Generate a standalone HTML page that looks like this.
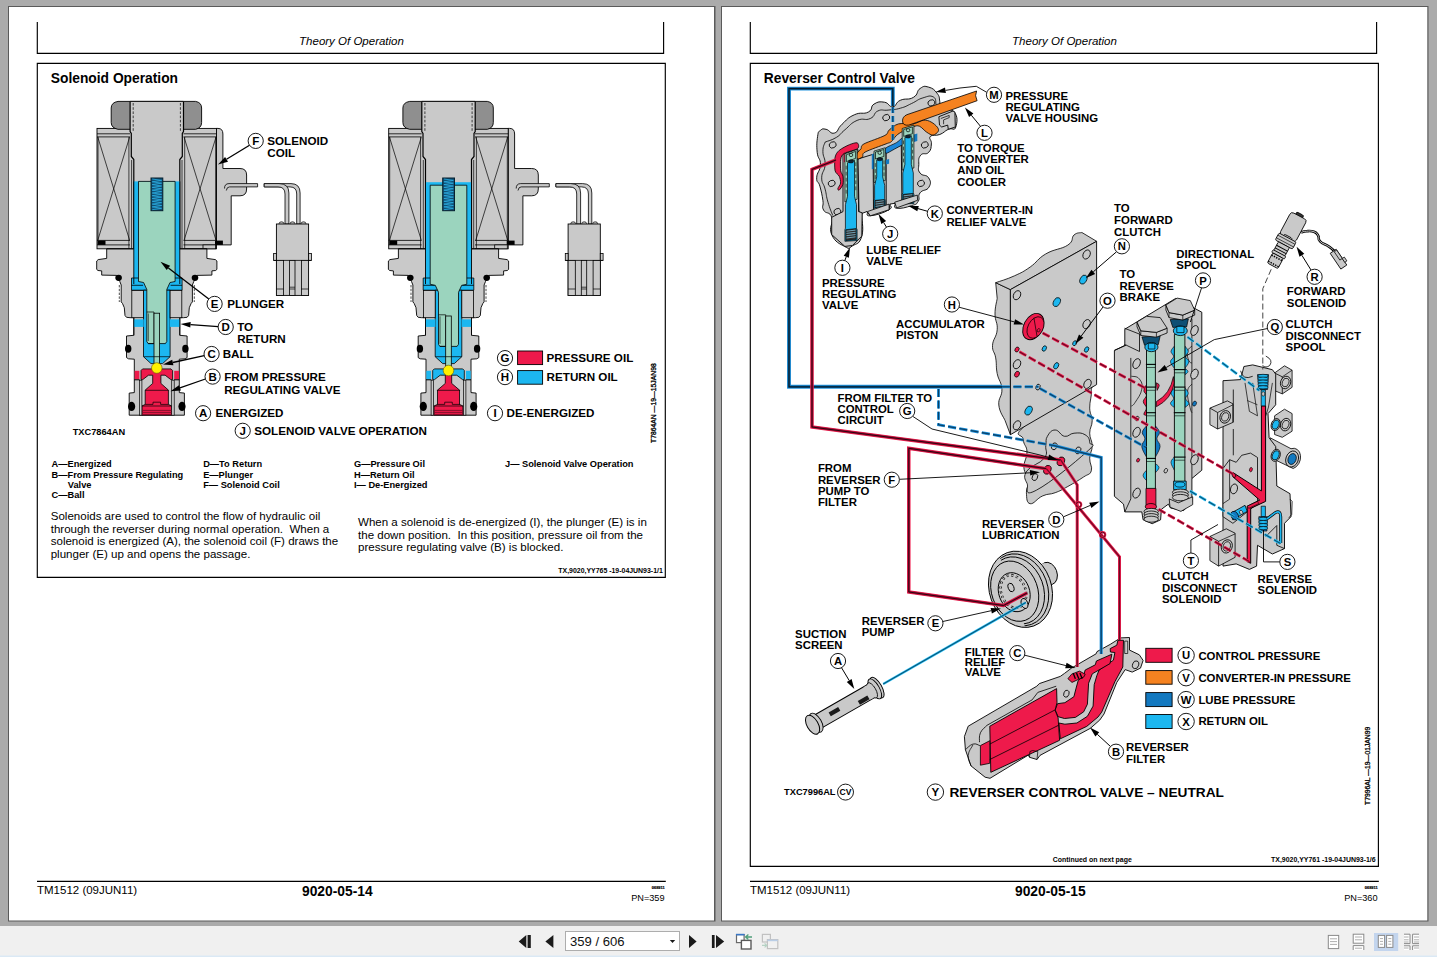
<!DOCTYPE html>
<html>
<head>
<meta charset="utf-8">
<title>Theory Of Operation</title>
<style>
html,body{margin:0;padding:0;width:1437px;height:957px;overflow:hidden;background:#ababab;}
svg{position:absolute;left:0;top:0;display:block;}
text{white-space:pre;font-family:"Liberation Sans",sans-serif;fill:#000;}
.b{font-weight:bold;}
.i{font-style:italic;}
.body{font-size:11.55px;}
.leg{font-size:9.25px;font-weight:bold;}
.lab{font-size:11.65px;font-weight:bold;}
.rlab{font-size:11.4px;font-weight:bold;}
.tiny{font-size:6.95px;font-weight:bold;}
.ln{stroke:#000;stroke-width:1.15;fill:none;}
</style>
</head>
<body>
<svg width="1437" height="957" viewBox="0 0 1437 957">
<!-- ===== viewer chrome ===== -->
<rect x="0" y="0" width="1437" height="957" fill="#ababab"/>
<!-- page shadows/borders -->
<rect x="8" y="6" width="707.5" height="915.5" fill="#5a5a5a"/>
<rect x="9" y="7" width="705" height="913.5" fill="#fff"/>
<rect x="721" y="6" width="707.5" height="915.5" fill="#5a5a5a"/>
<rect x="722" y="7" width="705.3" height="913.5" fill="#fff"/>
<!-- toolbar -->
<rect x="0" y="926" width="1437" height="31" fill="#f0f0f0"/>
<rect x="0" y="955.5" width="1437" height="1.5" fill="#dbe9f5"/>

<!-- ===== LEFT PAGE frame ===== -->
<g id="left-frame">
<path class="ln" d="M37.3 22 V53.3 H663.6 V22"/>
<path class="ln" d="M37.3 63.4 H665.3 V577.3 H37.3 Z"/>
<path class="ln" d="M37 881.3 H665.8"/>
<text x="351.5" y="45" text-anchor="middle" class="i" style="font-size:11.5px">Theory Of Operation</text>
<text x="50.8" y="82.8" class="b" style="font-size:13.8px">Solenoid Operation</text>
<text x="37" y="893.8" style="font-size:11.5px">TM1512 (09JUN11)</text>
<text x="302" y="895.8" class="b" style="font-size:13.8px">9020-05-14</text>
<text x="664.6" y="900.8" text-anchor="end" style="font-size:9.2px">PN=359</text>
<text x="664.6" y="889.3" text-anchor="end" class="b" style="font-size:3.9px;stroke:#000;stroke-width:0.2px">068911</text>
</g>

<!-- ===== RIGHT PAGE frame ===== -->
<g id="right-frame">
<path class="ln" d="M750.3 22 V53.3 H1376.6 V22"/>
<path class="ln" d="M750.3 63.4 H1378.4 V866.3 H750.3 Z"/>
<path class="ln" d="M750 881.3 H1378.8"/>
<text x="1064.5" y="45" text-anchor="middle" class="i" style="font-size:11.5px">Theory Of Operation</text>
<text x="763.8" y="82.8" class="b" style="font-size:13.8px">Reverser Control Valve</text>
<text x="750" y="893.8" style="font-size:11.5px">TM1512 (09JUN11)</text>
<text x="1015" y="895.8" class="b" style="font-size:13.8px">9020-05-15</text>
<text x="1377.6" y="900.8" text-anchor="end" style="font-size:9.2px">PN=360</text>
<text x="1377.6" y="889.3" text-anchor="end" class="b" style="font-size:3.9px;stroke:#000;stroke-width:0.2px">068911</text>
</g>

<!-- LEFT-TEXT -->
<g id="left-text">
<text class="leg" x="51.6" y="467.1">A—Energized</text>
<text class="leg" x="51.6" y="477.8">B—From Pressure Regulating</text>
<text class="leg" x="67.8" y="487.9">Valve</text>
<text class="leg" x="51.6" y="498.1">C—Ball</text>
<text class="leg" x="203.2" y="467.1">D—To Return</text>
<text class="leg" x="203.2" y="477.8">E—Plunger</text>
<text class="leg" x="203.2" y="487.9">F— Solenoid Coil</text>
<text class="leg" x="354" y="467.1">G—Pressure Oil</text>
<text class="leg" x="354" y="477.8">H—Return Oil</text>
<text class="leg" x="354" y="487.9">I— De-Energized</text>
<text class="leg" x="505" y="467.1">J— Solenoid Valve Operation</text>
<text class="body" x="50.7" y="519.8">Solenoids are used to control the flow of hydraulic oil</text>
<text class="body" x="50.7" y="532.5">through the reverser during normal operation.  When a</text>
<text class="body" x="50.7" y="545">solenoid is energized (A), the solenoid coil (F) draws the</text>
<text class="body" x="50.7" y="557.7">plunger (E) up and opens the passage.</text>
<text class="body" x="358" y="526">When a solenoid is de-energized (I), the plunger (E) is in</text>
<text class="body" x="358" y="538.6">the down position.  In this position, pressure oil from the</text>
<text class="body" x="358" y="551.2">pressure regulating valve (B) is blocked.</text>
<text class="tiny" x="662.8" y="573.4" text-anchor="end">TX,9020,YY765 -19-04JUN93-1/1</text>
</g>
<!-- LEFT-DIAGRAM -->
<g id="left-diagram">
<g id="sol-energized"><path d="M216.5 128.4 H218 Q222.9 128.4 222.9 134 V168.5 H240 Q246.6 168.5 246.6 175 V189 Q246.6 195.8 240 195.8 H231.2 V244.9 H216.5 Z" fill="#c9c9c9" stroke="#000" stroke-width="0.9"/>
<rect x="97.0" y="128.4" width="119.5" height="120.4" fill="#c9c9c9" stroke="#000" stroke-width="0.9"/>
<path d="M97.0 133.8 L130.1 133.8" stroke="#000" stroke-width="0.8" fill="none" />
<path d="M97.0 136.9 L130.1 136.9" stroke="#000" stroke-width="0.8" fill="none" />
<path d="M97.0 240.4 L130.1 240.4" stroke="#000" stroke-width="0.8" fill="none" />
<path d="M97.0 244.9 L130.1 244.9" stroke="#000" stroke-width="0.8" fill="none" />
<path d="M97.8 137.2 L129.6 240.2" stroke="#000" stroke-width="0.7" fill="none" />
<path d="M129.6 137.2 L97.8 240.2" stroke="#000" stroke-width="0.7" fill="none" />
<path d="M183.3 133.8 L216.5 133.8" stroke="#000" stroke-width="0.8" fill="none" />
<path d="M183.3 136.9 L216.5 136.9" stroke="#000" stroke-width="0.8" fill="none" />
<path d="M183.3 240.4 L216.5 240.4" stroke="#000" stroke-width="0.8" fill="none" />
<path d="M183.3 244.9 L216.5 244.9" stroke="#000" stroke-width="0.8" fill="none" />
<path d="M184.1 137.2 L216.0 240.2" stroke="#000" stroke-width="0.7" fill="none" />
<path d="M216.0 137.2 L184.1 240.2" stroke="#000" stroke-width="0.7" fill="none" />
<path d="M215.6 136.9 L215.6 240.4" stroke="#000" stroke-width="0.7" fill="none" />
<path d="M98.0 136.9 L98.0 240.4" stroke="#000" stroke-width="0.7" fill="none" />
<path d="M224.5 188.5 Q224.5 183.6 229 183.6 H257.6 V186.9 H229.5 Q226.8 186.9 226.3 190.5" fill="#c9c9c9" stroke="#000" stroke-width="0.8"/>
<rect x="97.5" y="240.6" width="8.0" height="4.3" fill="#000" stroke="none" stroke-width="0"/>
<rect x="215.0" y="240.6" width="7.9" height="4.3" fill="#000" stroke="none" stroke-width="0"/>
<rect x="203.0" y="244.9" width="12.6" height="3.9" fill="#c9c9c9" stroke="#000" stroke-width="0.8"/>
<path d="M118 101.4 H195.6 Q201.6 102.5 201.6 108 V122.5 Q201.6 128 195.6 129.3 H118 Q111.2 128 111.2 122.5 V108 Q111.2 102.5 118 101.4 Z" fill="#8f8f8f" stroke="#000" stroke-width="0.9"/>
<rect x="130.1" y="101.4" width="53.2" height="150.6" fill="#c9c9c9" stroke="none" stroke-width="0"/>
<path d="M130.1 101.4 L183.3 101.4" stroke="#000" stroke-width="0.9" fill="none" />
<path d="M130.1 101.4 V131.5 L131.3 133.5 V156.5 L133.8 159.5 V252" fill="none" stroke="#000" stroke-width="1.2"/>
<path d="M183.5 101.4 V131.5 L182.3 133.5 V156.5 L179.8 159.5 V252" fill="none" stroke="#000" stroke-width="1.2"/>
<path d="M128.9 137.0 L128.9 252.0" stroke="#000" stroke-width="0.7" fill="none" />
<path d="M184.7 137.0 L184.7 252.0" stroke="#000" stroke-width="0.7" fill="none" />
<path d="M131.6 160.0 L131.6 252.0" stroke="#000" stroke-width="0.7" fill="none" />
<path d="M182.0 160.0 L182.0 252.0" stroke="#000" stroke-width="0.7" fill="none" />
<path d="M133.2 103.0 L133.2 131.0" stroke="#000" stroke-width="0.7" fill="none" stroke-dasharray="2.6 1.6"/>
<path d="M180.4 103.0 L180.4 131.0" stroke="#000" stroke-width="0.7" fill="none" stroke-dasharray="2.6 1.6"/>
<path d="M106.7 248.8 L106.7 258.4 L98.2 259.6 L96.7 261.0 L96.7 269.4 L98.0 270.5 L101.7 270.9 L101.7 275.1 L116.5 275.4 L119.8 281.5 L121.2 285.0 L121.2 301.9 L122.5 303.5 L124.3 307.7 L125.0 315.5 L126.5 317.3 L130.0 317.7 L133.8 317.7 L133.8 335.3 L126.5 336.0 L126.5 357.6 L128.5 358.8 L134.3 359.2 L134.3 392.6 L129.2 393.1 L129.2 415.2 L184.4 415.2 L184.4 393.1 L179.3 392.6 L179.3 359.2 L185.1 358.8 L187.1 357.6 L187.1 336.0 L179.8 335.3 L179.8 317.7 L183.6 317.7 L187.1 317.3 L188.6 315.5 L189.3 307.7 L191.1 303.5 L192.4 301.9 L192.4 285.0 L193.8 281.5 L197.1 275.4 L211.9 275.1 L211.9 270.9 L215.6 270.5 L216.9 269.4 L216.9 261.0 L215.4 259.6 L206.9 258.4 L206.9 248.8 Z" fill="#c9c9c9" stroke="#000" stroke-width="0.9" stroke-linejoin="round" />
<path d="M119.3 285.0 L119.3 302.0" stroke="#000" stroke-width="0.7" fill="none" stroke-dasharray="2.4 1.4"/>
<path d="M194.3 285.0 L194.3 302.0" stroke="#000" stroke-width="0.7" fill="none" stroke-dasharray="2.4 1.4"/>
<path d="M106.7 248.8 L206.9 248.8" stroke="#000" stroke-width="0.8" fill="none" />
<ellipse cx="118.6" cy="277.8" rx="3.3" ry="3.1" fill="#000"/>
<ellipse cx="195.0" cy="277.8" rx="3.3" ry="3.1" fill="#000"/>
<ellipse cx="128.2" cy="348.8" rx="3.2" ry="4.0" fill="#000"/>
<ellipse cx="185.4" cy="348.8" rx="3.2" ry="4.0" fill="#000"/>
<ellipse cx="131.6" cy="406.4" rx="3.6" ry="4.6" fill="#000"/>
<ellipse cx="182.0" cy="406.4" rx="3.6" ry="4.6" fill="#000"/>
<rect x="133.8" y="181.4" width="46.0" height="102.6" fill="#1cb7f0" stroke="none" stroke-width="0"/>
<path d="M131.5 278.0 L131.5 290.2 L146.8 290.2 L166.8 290.2 L182.1 290.2 L182.1 278.0 Z" fill="#1cb7f0" stroke="#000" stroke-width="0.8" stroke-linejoin="round" />
<path d="M143.5 290.2 L143.5 356.7 L151.0 363.6 L162.6 363.6 L170.1 356.7 L170.1 290.2 Z" fill="#1cb7f0" stroke="#000" stroke-width="0.8" stroke-linejoin="round" />
<rect x="131.8" y="290.4" width="11.7" height="27.3" fill="#c9c9c9" stroke="#000" stroke-width="0.8"/>
<rect x="170.1" y="290.4" width="11.7" height="27.3" fill="#c9c9c9" stroke="#000" stroke-width="0.8"/>
<rect x="133.8" y="319.3" width="9.9" height="7.6" fill="#1cb7f0" stroke="none" stroke-width="0"/>
<rect x="169.9" y="319.3" width="9.9" height="7.6" fill="#1cb7f0" stroke="none" stroke-width="0"/>
<path d="M133.8 317.7 L133.8 335.3" stroke="#000" stroke-width="0.8" fill="none" />
<path d="M179.8 317.7 L179.8 335.3" stroke="#000" stroke-width="0.8" fill="none" />
<path d="M131.5 285.3 L143.0 285.3" stroke="#000" stroke-width="0.8" fill="none" />
<path d="M182.1 285.3 L170.6 285.3" stroke="#000" stroke-width="0.8" fill="none" />
<path d="M133.8 181.4 L133.8 284.0" stroke="#000" stroke-width="0.9" fill="none" />
<path d="M179.8 181.4 L179.8 284.0" stroke="#000" stroke-width="0.9" fill="none" />
<path d="M138.5 181.4 L138.5 281.5 L143.6 282.5 L146.8 289.5 L146.8 341.5 L148.2 343.6 L165.4 343.6 L166.8 341.5 L166.8 289.5 L170.0 282.5 L175.1 281.5 L175.1 181.4 Z" fill="#9bd4be" stroke="#000" stroke-width="0.8" stroke-linejoin="round" />
<path d="M146.8 312.0 H154 V343.6 H148.2 V343.6" fill="none" stroke="#000" stroke-width="0.7"/>
<path d="M148.3 313.5 L148.3 341.0" stroke="#000" stroke-width="0.6" fill="none" />
<rect x="154.0" y="313.2" width="5.6" height="50.3" fill="#9bd4be" stroke="#000" stroke-width="0.8"/>
<path d="M143.5 356.7 L170.1 356.7" stroke="#000" stroke-width="0.7" fill="none" />
<rect x="151.0" y="178.0" width="11.8" height="32.7" fill="#0e4f74" stroke="#06202f" stroke-width="1.0"/>
<path d="M152.2 179.0 L161.6 180.4 L152.2 181.8 L161.6 183.2 L152.2 184.6 L161.6 186.0 L152.2 187.4 L161.6 188.8 L152.2 190.2 L161.6 191.6 L152.2 193.0 L161.6 194.3 L152.2 195.7 L161.6 197.1 L152.2 198.5 L161.6 199.9 L152.2 201.3 L161.6 202.7 L152.2 204.1 L161.6 205.5 L152.2 206.9 L161.6 208.3 L152.2 209.7" fill="none" stroke="#2db4ea" stroke-width="0.75"/>
<rect x="134.6" y="370.8" width="4.8" height="8.6" fill="#ee1a4b" stroke="none" stroke-width="0"/>
<rect x="174.2" y="370.8" width="4.8" height="8.6" fill="#ee1a4b" stroke="none" stroke-width="0"/>
<path d="M134.3 379.8 L139.6 379.8" stroke="#000" stroke-width="1.0" fill="none" />
<path d="M179.3 379.8 L174.0 379.8" stroke="#000" stroke-width="1.0" fill="none" />
<path d="M142.6 368.9 L141.0 370.5 L141.0 379.6 L142.8 379.6 L148.5 375.2 L152.7 375.2 L152.7 383.4 L145.2 390.1 L145.2 404.4 L141.9 406.0 L141.9 415.2 L171.7 415.2 L171.7 406.0 L168.4 404.4 L168.4 390.1 L160.9 383.4 L160.9 375.2 L165.1 375.2 L170.8 379.6 L172.6 379.6 L172.6 370.5 L171.0 368.9 Z" fill="#ee1a4b" stroke="#000" stroke-width="0.8" stroke-linejoin="round" />
<rect x="139.4" y="380.2" width="2.5" height="35.0" fill="#c9c9c9" stroke="#000" stroke-width="0.7"/>
<rect x="171.7" y="380.2" width="2.5" height="35.0" fill="#c9c9c9" stroke="#000" stroke-width="0.7"/>
<path d="M145.2 390.3 L168.4 390.3" stroke="#000" stroke-width="0.7" fill="none" />
<path d="M145.2 404.4 H153 V402.2 H160.6 V404.4 H168.4" fill="none" stroke="#000" stroke-width="0.7"/>
<path d="M141.9 406.0 L171.7 406.0" stroke="#000" stroke-width="0.7" fill="none" />
<path d="M142.0 410.4 L171.6 410.4" stroke="#7c0d28" stroke-width="0.9" fill="none" />
<path d="M142.0 412.4 L171.6 412.4" stroke="#7c0d28" stroke-width="0.9" fill="none" />
<path d="M142.0 414.4 L171.6 414.4" stroke="#7c0d28" stroke-width="0.9" fill="none" />
<circle cx="156.8" cy="368.0" r="5.3" fill="#fff100" stroke="#6b5a00" stroke-width="0.6"/></g>
<g transform="translate(0.0 0)">
<path d="M264.2 183.6 H291 Q300.1 183.6 300.1 193 V224 H296.7 V194 Q296.7 186.9 290 186.9 H264.2 Z" fill="#c9c9c9" stroke="#000" stroke-width="0.8"/>
<path d="M264.2 183.6 H279 Q288.9 183.6 288.9 193 V224 H285 V194 Q285 186.9 278 186.9 H264.2 Z" fill="#c9c9c9" stroke="#000" stroke-width="0.8"/>
<ellipse cx="281.5" cy="223.6" rx="2.4" ry="1.8" fill="#c9c9c9" stroke="#000" stroke-width="0.7"/>
<ellipse cx="292.5" cy="223.6" rx="2.4" ry="1.8" fill="#c9c9c9" stroke="#000" stroke-width="0.7"/>
<ellipse cx="303.5" cy="223.6" rx="2.4" ry="1.8" fill="#c9c9c9" stroke="#000" stroke-width="0.7"/>
<rect x="276.4" y="224.0" width="32.2" height="71.4" fill="#c9c9c9" stroke="#000" stroke-width="0.9"/>
<rect x="273.6" y="253.4" width="2.8" height="7.0" fill="#c9c9c9" stroke="#000" stroke-width="0.8"/>
<rect x="308.6" y="253.4" width="2.8" height="7.0" fill="#c9c9c9" stroke="#000" stroke-width="0.8"/>
<path d="M273.6 260.4 L311.4 260.4" stroke="#000" stroke-width="0.8" fill="none" />
<rect x="276.4" y="260.4" width="7.2" height="35.0" fill="#c9c9c9" stroke="#000" stroke-width="0.8"/>
<path d="M276.4 289.0 L283.6 289.0" stroke="#000" stroke-width="0.7" fill="none" />
<rect x="289.6" y="260.4" width="5.4" height="35.0" fill="#c9c9c9" stroke="#000" stroke-width="0.8"/>
<path d="M289.6 289.0 L295.0 289.0" stroke="#000" stroke-width="0.7" fill="none" />
<rect x="301.4" y="260.4" width="7.2" height="35.0" fill="#c9c9c9" stroke="#000" stroke-width="0.8"/>
<path d="M301.4 289.0 L308.6 289.0" stroke="#000" stroke-width="0.7" fill="none" />
<path d="M289.6 287.2 L295.0 287.2" stroke="#000" stroke-width="0.7" fill="none" />
</g>
<g id="sol-deenergized" transform="translate(291.7 0)"><path d="M216.5 128.4 H218 Q222.9 128.4 222.9 134 V168.5 H240 Q246.6 168.5 246.6 175 V189 Q246.6 195.8 240 195.8 H231.2 V244.9 H216.5 Z" fill="#c9c9c9" stroke="#000" stroke-width="0.9"/>
<rect x="97.0" y="128.4" width="119.5" height="120.4" fill="#c9c9c9" stroke="#000" stroke-width="0.9"/>
<path d="M97.0 133.8 L130.1 133.8" stroke="#000" stroke-width="0.8" fill="none" />
<path d="M97.0 136.9 L130.1 136.9" stroke="#000" stroke-width="0.8" fill="none" />
<path d="M97.0 240.4 L130.1 240.4" stroke="#000" stroke-width="0.8" fill="none" />
<path d="M97.0 244.9 L130.1 244.9" stroke="#000" stroke-width="0.8" fill="none" />
<path d="M97.8 137.2 L129.6 240.2" stroke="#000" stroke-width="0.7" fill="none" />
<path d="M129.6 137.2 L97.8 240.2" stroke="#000" stroke-width="0.7" fill="none" />
<path d="M183.3 133.8 L216.5 133.8" stroke="#000" stroke-width="0.8" fill="none" />
<path d="M183.3 136.9 L216.5 136.9" stroke="#000" stroke-width="0.8" fill="none" />
<path d="M183.3 240.4 L216.5 240.4" stroke="#000" stroke-width="0.8" fill="none" />
<path d="M183.3 244.9 L216.5 244.9" stroke="#000" stroke-width="0.8" fill="none" />
<path d="M184.1 137.2 L216.0 240.2" stroke="#000" stroke-width="0.7" fill="none" />
<path d="M216.0 137.2 L184.1 240.2" stroke="#000" stroke-width="0.7" fill="none" />
<path d="M215.6 136.9 L215.6 240.4" stroke="#000" stroke-width="0.7" fill="none" />
<path d="M98.0 136.9 L98.0 240.4" stroke="#000" stroke-width="0.7" fill="none" />
<path d="M224.5 188.5 Q224.5 183.6 229 183.6 H257.6 V186.9 H229.5 Q226.8 186.9 226.3 190.5" fill="#c9c9c9" stroke="#000" stroke-width="0.8"/>
<rect x="97.5" y="240.6" width="8.0" height="4.3" fill="#000" stroke="none" stroke-width="0"/>
<rect x="215.0" y="240.6" width="7.9" height="4.3" fill="#000" stroke="none" stroke-width="0"/>
<rect x="203.0" y="244.9" width="12.6" height="3.9" fill="#c9c9c9" stroke="#000" stroke-width="0.8"/>
<path d="M118 101.4 H195.6 Q201.6 102.5 201.6 108 V122.5 Q201.6 128 195.6 129.3 H118 Q111.2 128 111.2 122.5 V108 Q111.2 102.5 118 101.4 Z" fill="#8f8f8f" stroke="#000" stroke-width="0.9"/>
<rect x="130.1" y="101.4" width="53.2" height="150.6" fill="#c9c9c9" stroke="none" stroke-width="0"/>
<path d="M130.1 101.4 L183.3 101.4" stroke="#000" stroke-width="0.9" fill="none" />
<path d="M130.1 101.4 V131.5 L131.3 133.5 V156.5 L133.8 159.5 V252" fill="none" stroke="#000" stroke-width="1.2"/>
<path d="M183.5 101.4 V131.5 L182.3 133.5 V156.5 L179.8 159.5 V252" fill="none" stroke="#000" stroke-width="1.2"/>
<path d="M128.9 137.0 L128.9 252.0" stroke="#000" stroke-width="0.7" fill="none" />
<path d="M184.7 137.0 L184.7 252.0" stroke="#000" stroke-width="0.7" fill="none" />
<path d="M131.6 160.0 L131.6 252.0" stroke="#000" stroke-width="0.7" fill="none" />
<path d="M182.0 160.0 L182.0 252.0" stroke="#000" stroke-width="0.7" fill="none" />
<path d="M133.2 103.0 L133.2 131.0" stroke="#000" stroke-width="0.7" fill="none" stroke-dasharray="2.6 1.6"/>
<path d="M180.4 103.0 L180.4 131.0" stroke="#000" stroke-width="0.7" fill="none" stroke-dasharray="2.6 1.6"/>
<path d="M106.7 248.8 L106.7 258.4 L98.2 259.6 L96.7 261.0 L96.7 269.4 L98.0 270.5 L101.7 270.9 L101.7 275.1 L116.5 275.4 L119.8 281.5 L121.2 285.0 L121.2 301.9 L122.5 303.5 L124.3 307.7 L125.0 315.5 L126.5 317.3 L130.0 317.7 L133.8 317.7 L133.8 335.3 L126.5 336.0 L126.5 357.6 L128.5 358.8 L134.3 359.2 L134.3 392.6 L129.2 393.1 L129.2 415.2 L184.4 415.2 L184.4 393.1 L179.3 392.6 L179.3 359.2 L185.1 358.8 L187.1 357.6 L187.1 336.0 L179.8 335.3 L179.8 317.7 L183.6 317.7 L187.1 317.3 L188.6 315.5 L189.3 307.7 L191.1 303.5 L192.4 301.9 L192.4 285.0 L193.8 281.5 L197.1 275.4 L211.9 275.1 L211.9 270.9 L215.6 270.5 L216.9 269.4 L216.9 261.0 L215.4 259.6 L206.9 258.4 L206.9 248.8 Z" fill="#c9c9c9" stroke="#000" stroke-width="0.9" stroke-linejoin="round" />
<path d="M119.3 285.0 L119.3 302.0" stroke="#000" stroke-width="0.7" fill="none" stroke-dasharray="2.4 1.4"/>
<path d="M194.3 285.0 L194.3 302.0" stroke="#000" stroke-width="0.7" fill="none" stroke-dasharray="2.4 1.4"/>
<path d="M106.7 248.8 L206.9 248.8" stroke="#000" stroke-width="0.8" fill="none" />
<ellipse cx="118.6" cy="277.8" rx="3.3" ry="3.1" fill="#000"/>
<ellipse cx="195.0" cy="277.8" rx="3.3" ry="3.1" fill="#000"/>
<ellipse cx="128.2" cy="348.8" rx="3.2" ry="4.0" fill="#000"/>
<ellipse cx="185.4" cy="348.8" rx="3.2" ry="4.0" fill="#000"/>
<ellipse cx="131.6" cy="406.4" rx="3.6" ry="4.6" fill="#000"/>
<ellipse cx="182.0" cy="406.4" rx="3.6" ry="4.6" fill="#000"/>
<rect x="133.8" y="182.2" width="46.0" height="101.8" fill="#1cb7f0" stroke="none" stroke-width="0"/>
<path d="M131.5 278.0 L131.5 290.2 L146.8 290.2 L166.8 290.2 L182.1 290.2 L182.1 278.0 Z" fill="#1cb7f0" stroke="#000" stroke-width="0.8" stroke-linejoin="round" />
<path d="M143.5 290.2 L143.5 356.7 L151.0 363.6 L162.6 363.6 L170.1 356.7 L170.1 290.2 Z" fill="#1cb7f0" stroke="#000" stroke-width="0.8" stroke-linejoin="round" />
<rect x="131.8" y="290.4" width="11.7" height="27.3" fill="#c9c9c9" stroke="#000" stroke-width="0.8"/>
<rect x="170.1" y="290.4" width="11.7" height="27.3" fill="#c9c9c9" stroke="#000" stroke-width="0.8"/>
<rect x="133.8" y="319.3" width="9.9" height="7.6" fill="#1cb7f0" stroke="none" stroke-width="0"/>
<rect x="169.9" y="319.3" width="9.9" height="7.6" fill="#1cb7f0" stroke="none" stroke-width="0"/>
<path d="M133.8 317.7 L133.8 335.3" stroke="#000" stroke-width="0.8" fill="none" />
<path d="M179.8 317.7 L179.8 335.3" stroke="#000" stroke-width="0.8" fill="none" />
<path d="M131.5 285.3 L143.0 285.3" stroke="#000" stroke-width="0.8" fill="none" />
<path d="M182.1 285.3 L170.6 285.3" stroke="#000" stroke-width="0.8" fill="none" />
<path d="M133.8 181.4 L133.8 284.0" stroke="#000" stroke-width="0.9" fill="none" />
<path d="M179.8 181.4 L179.8 284.0" stroke="#000" stroke-width="0.9" fill="none" />
<path d="M138.5 185.2 L138.5 284.3 L143.6 285.3 L146.8 292.3 L146.8 344.3 L148.2 346.4 L165.4 346.4 L166.8 344.3 L166.8 292.3 L170.0 285.3 L175.1 284.3 L175.1 185.2 Z" fill="#9bd4be" stroke="#000" stroke-width="0.8" stroke-linejoin="round" />
<path d="M146.8 314.8 H154 V346.4 H148.2 V346.4" fill="none" stroke="#000" stroke-width="0.7"/>
<path d="M148.3 316.3 L148.3 343.8" stroke="#000" stroke-width="0.6" fill="none" />
<rect x="154.0" y="316.0" width="5.6" height="50.3" fill="#9bd4be" stroke="#000" stroke-width="0.8"/>
<path d="M143.5 356.7 L170.1 356.7" stroke="#000" stroke-width="0.7" fill="none" />
<rect x="151.0" y="178.0" width="11.8" height="32.7" fill="#0e4f74" stroke="#06202f" stroke-width="1.0"/>
<path d="M152.2 179.0 L161.6 180.4 L152.2 181.8 L161.6 183.2 L152.2 184.6 L161.6 186.0 L152.2 187.4 L161.6 188.8 L152.2 190.2 L161.6 191.6 L152.2 193.0 L161.6 194.3 L152.2 195.7 L161.6 197.1 L152.2 198.5 L161.6 199.9 L152.2 201.3 L161.6 202.7 L152.2 204.1 L161.6 205.5 L152.2 206.9 L161.6 208.3 L152.2 209.7" fill="none" stroke="#2db4ea" stroke-width="0.75"/>
<rect x="134.6" y="370.8" width="4.8" height="8.6" fill="#1cb7f0" stroke="none" stroke-width="0"/>
<rect x="174.2" y="370.8" width="4.8" height="8.6" fill="#1cb7f0" stroke="none" stroke-width="0"/>
<path d="M134.3 379.8 L139.6 379.8" stroke="#000" stroke-width="1.0" fill="none" />
<path d="M179.3 379.8 L174.0 379.8" stroke="#000" stroke-width="1.0" fill="none" />
<path d="M142.6 368.9 L141.0 370.5 L141.0 379.6 L142.8 379.6 L148.5 375.2 L152.7 375.2 L160.9 375.2 L165.1 375.2 L170.8 379.6 L172.6 379.6 L172.6 370.5 L171.0 368.9 Z" fill="#1cb7f0" stroke="#000" stroke-width="0.8" stroke-linejoin="round" />
<path d="M153.6 374.0 L153.6 383.4 L145.8 390.1 L145.8 404.4 L142.4 406.0 L142.4 415.2 L171.2 415.2 L171.2 406.0 L167.8 404.4 L167.8 390.1 L160.0 383.4 L160.0 374.0 Z" fill="#ee1a4b" stroke="#000" stroke-width="0.8" stroke-linejoin="round" />
<rect x="139.4" y="380.2" width="2.5" height="35.0" fill="#c9c9c9" stroke="#000" stroke-width="0.7"/>
<rect x="171.7" y="380.2" width="2.5" height="35.0" fill="#c9c9c9" stroke="#000" stroke-width="0.7"/>
<path d="M145.2 390.3 L168.4 390.3" stroke="#000" stroke-width="0.7" fill="none" />
<path d="M145.2 404.4 H153 V402.2 H160.6 V404.4 H168.4" fill="none" stroke="#000" stroke-width="0.7"/>
<path d="M141.9 406.0 L171.7 406.0" stroke="#000" stroke-width="0.7" fill="none" />
<path d="M142.0 410.4 L171.6 410.4" stroke="#7c0d28" stroke-width="0.9" fill="none" />
<path d="M142.0 412.4 L171.6 412.4" stroke="#7c0d28" stroke-width="0.9" fill="none" />
<path d="M142.0 414.4 L171.6 414.4" stroke="#7c0d28" stroke-width="0.9" fill="none" />
<circle cx="156.8" cy="370.5" r="5.3" fill="#fff100" stroke="#6b5a00" stroke-width="0.6"/></g>
<g transform="translate(291.7 0)">
<path d="M264.2 183.6 H291 Q300.1 183.6 300.1 193 V224 H296.7 V194 Q296.7 186.9 290 186.9 H264.2 Z" fill="#c9c9c9" stroke="#000" stroke-width="0.8"/>
<path d="M264.2 183.6 H279 Q288.9 183.6 288.9 193 V224 H285 V194 Q285 186.9 278 186.9 H264.2 Z" fill="#c9c9c9" stroke="#000" stroke-width="0.8"/>
<ellipse cx="281.5" cy="223.6" rx="2.4" ry="1.8" fill="#c9c9c9" stroke="#000" stroke-width="0.7"/>
<ellipse cx="292.5" cy="223.6" rx="2.4" ry="1.8" fill="#c9c9c9" stroke="#000" stroke-width="0.7"/>
<ellipse cx="303.5" cy="223.6" rx="2.4" ry="1.8" fill="#c9c9c9" stroke="#000" stroke-width="0.7"/>
<rect x="276.4" y="224.0" width="32.2" height="71.4" fill="#c9c9c9" stroke="#000" stroke-width="0.9"/>
<rect x="273.6" y="253.4" width="2.8" height="7.0" fill="#c9c9c9" stroke="#000" stroke-width="0.8"/>
<rect x="308.6" y="253.4" width="2.8" height="7.0" fill="#c9c9c9" stroke="#000" stroke-width="0.8"/>
<path d="M273.6 260.4 L311.4 260.4" stroke="#000" stroke-width="0.8" fill="none" />
<rect x="276.4" y="260.4" width="7.2" height="35.0" fill="#c9c9c9" stroke="#000" stroke-width="0.8"/>
<path d="M276.4 289.0 L283.6 289.0" stroke="#000" stroke-width="0.7" fill="none" />
<rect x="289.6" y="260.4" width="5.4" height="35.0" fill="#c9c9c9" stroke="#000" stroke-width="0.8"/>
<path d="M289.6 289.0 L295.0 289.0" stroke="#000" stroke-width="0.7" fill="none" />
<rect x="301.4" y="260.4" width="7.2" height="35.0" fill="#c9c9c9" stroke="#000" stroke-width="0.8"/>
<path d="M301.4 289.0 L308.6 289.0" stroke="#000" stroke-width="0.7" fill="none" />
<path d="M289.6 287.2 L295.0 287.2" stroke="#000" stroke-width="0.7" fill="none" />
</g>
<path d="M249.5 145.3 L226.5 159.3" stroke="#000" stroke-width="1.3" fill="none"/><path d="M218.0 164.5 L225.1 156.9 L228.0 161.7 Z" fill="#000"/>
<circle cx="255.7" cy="140.9" r="7.6" fill="#fff" stroke="#000" stroke-width="0.9"/><text x="255.7" y="145.0" text-anchor="middle" class="b" style="font-size:11.5px">F</text>
<text x="267.3" y="145.0" class="lab" >SOLENOID</text>
<text x="267.3" y="157.0" class="lab" >COIL</text>
<path d="M208.8 299.0 L168.4 267.9" stroke="#000" stroke-width="1.3" fill="none"/><path d="M160.5 261.8 L170.1 265.7 L166.7 270.1 Z" fill="#000"/>
<circle cx="214.6" cy="303.9" r="7.6" fill="#fff" stroke="#000" stroke-width="0.9"/><text x="214.6" y="308.0" text-anchor="middle" class="b" style="font-size:11.5px">E</text>
<text x="227.2" y="308.0" class="lab" >PLUNGER</text>
<path d="M218.2 326.6 L190.5 324.7" stroke="#000" stroke-width="1.3" fill="none"/><path d="M180.5 324.0 L190.7 321.9 L190.3 327.5 Z" fill="#000"/>
<circle cx="225.7" cy="327.0" r="7.6" fill="#fff" stroke="#000" stroke-width="0.9"/><text x="225.7" y="331.1" text-anchor="middle" class="b" style="font-size:11.5px">D</text>
<text x="237.2" y="331.0" class="lab" >TO</text>
<text x="237.2" y="343.0" class="lab" >RETURN</text>
<path d="M204.2 355.6 L172.8 362.5" stroke="#000" stroke-width="1.3" fill="none"/><path d="M163.0 364.6 L172.2 359.7 L173.4 365.2 Z" fill="#000"/>
<circle cx="211.6" cy="354.0" r="7.6" fill="#fff" stroke="#000" stroke-width="0.9"/><text x="211.6" y="358.1" text-anchor="middle" class="b" style="font-size:11.5px">C</text>
<text x="222.7" y="358.0" class="lab" >BALL</text>
<path d="M205.4 379.0 L179.9 387.9" stroke="#000" stroke-width="1.3" fill="none"/><path d="M170.5 391.2 L179.0 385.3 L180.9 390.5 Z" fill="#000"/>
<circle cx="212.6" cy="376.6" r="7.6" fill="#fff" stroke="#000" stroke-width="0.9"/><text x="212.6" y="380.7" text-anchor="middle" class="b" style="font-size:11.5px">B</text>
<text x="224.2" y="380.6" class="lab" >FROM PRESSURE</text>
<text x="224.2" y="393.7" class="lab" >REGULATING VALVE</text>
<circle cx="203.1" cy="413.2" r="7.6" fill="#fff" stroke="#000" stroke-width="0.9"/><text x="203.1" y="417.3" text-anchor="middle" class="b" style="font-size:11.5px">A</text>
<text x="215.6" y="417.2" class="lab" >ENERGIZED</text>
<text x="72.7" y="434.8" class="leg" >TXC7864AN</text>
<circle cx="242.7" cy="430.8" r="7.6" fill="#fff" stroke="#000" stroke-width="0.9"/><text x="242.7" y="434.9" text-anchor="middle" class="b" style="font-size:11.5px">J</text>
<text x="254.3" y="434.8" class="lab" >SOLENOID VALVE OPERATION</text>
<circle cx="505.0" cy="358.1" r="7.6" fill="#fff" stroke="#000" stroke-width="0.9"/><text x="505.0" y="362.2" text-anchor="middle" class="b" style="font-size:11.5px">G</text>
<rect x="517.6" y="351.0" width="25.0" height="13.6" fill="#ee1a4b" stroke="#000" stroke-width="0.9"/>
<text x="546.6" y="362.1" class="lab" >PRESSURE OIL</text>
<circle cx="505.0" cy="377.1" r="7.6" fill="#fff" stroke="#000" stroke-width="0.9"/><text x="505.0" y="381.2" text-anchor="middle" class="b" style="font-size:11.5px">H</text>
<rect x="517.6" y="370.6" width="25.0" height="13.6" fill="#1cb7f0" stroke="#000" stroke-width="0.9"/>
<text x="546.6" y="381.1" class="lab" >RETURN OIL</text>
<circle cx="495.0" cy="413.2" r="7.6" fill="#fff" stroke="#000" stroke-width="0.9"/><text x="495.0" y="417.3" text-anchor="middle" class="b" style="font-size:11.5px">I</text>
<text x="506.5" y="417.2" class="lab" >DE-ENERGIZED</text>
<text transform="translate(656.2 443) rotate(-90)" style="font-size:6.8px;stroke:#000;stroke-width:0.3px">T7864AN —19—15JAN98</text>
</g>
<!-- /LEFT-DIAGRAM -->
<!-- RIGHT-DIAGRAM -->
<g id="right-diagram">
<g id="r-objects"><path d="M817.6 136.4 C818.5 130.5 818.2 132.3 820.4 130.4 C822.7 128.5 822.3 128.6 826.1 129.3 C829.8 130.0 830.3 134.4 834.5 133.0 C838.8 131.7 836.8 129.1 842.1 124.2 C847.3 119.3 847.3 118.0 854.3 114.8 C861.3 111.5 863.1 114.8 868.4 112.0 C873.6 109.1 869.8 106.7 874.0 104.1 C878.3 101.5 879.3 101.5 884.4 102.2 C889.4 102.9 888.6 107.2 892.8 106.7 C897.1 106.2 894.8 102.8 900.3 100.3 C905.9 97.8 908.2 100.5 913.5 97.3 C918.8 94.1 916.1 91.2 920.1 88.5 C924.1 85.8 924.0 85.9 928.6 87.1 C933.1 88.4 934.0 89.3 937.0 93.2 C940.0 97.0 939.0 97.1 939.8 101.6 C940.7 106.1 936.4 107.4 940.2 110.1 C944.0 112.7 949.8 107.1 953.9 111.6 C958.1 116.1 957.3 122.3 955.8 127.0 C954.3 131.7 952.6 127.3 948.3 129.3 C944.0 131.3 944.6 132.6 939.8 134.5 C935.1 136.4 932.7 133.9 930.4 136.4 C928.2 138.9 931.9 139.7 931.4 143.9 C930.9 148.2 931.4 149.4 928.6 152.4 C925.7 155.4 923.3 152.0 920.7 155.2 C918.0 158.5 918.9 159.9 918.8 164.6 C918.6 169.4 917.5 169.6 920.1 173.1 C922.7 176.6 926.2 174.0 928.6 177.8 C930.9 181.5 931.2 183.2 928.9 187.2 C926.7 191.2 922.9 189.1 920.1 192.8 C917.2 196.6 920.5 197.9 918.2 201.3 C916.0 204.7 917.4 203.8 911.6 205.6 C905.9 207.5 901.1 208.9 896.6 208.2 C892.1 207.6 896.5 204.3 894.7 203.2 C892.9 202.1 891.5 202.4 890.0 204.1 C888.5 205.9 894.3 206.6 889.1 209.7 C883.8 212.9 876.2 215.3 870.3 215.8 C864.3 216.3 869.0 212.5 866.9 211.6 C864.7 210.8 863.5 206.0 862.2 212.6 C860.8 219.1 864.4 227.2 861.8 236.1 C859.2 244.9 856.9 243.0 852.4 245.9 C847.9 248.7 850.4 249.6 844.9 246.6 C839.4 243.6 835.2 242.4 831.7 234.6 C828.2 226.7 833.9 223.8 831.7 217.3 C829.6 210.8 826.0 214.6 823.6 210.1 C821.3 205.6 823.9 206.7 822.9 200.3 C821.9 194.0 821.5 192.3 819.9 186.2 C818.2 180.2 816.5 183.5 816.7 177.8 C816.8 172.0 820.3 171.4 820.4 164.6 C820.6 157.8 818.0 159.9 817.2 152.4 C816.5 144.9 816.8 142.3 817.6 136.4 Z" fill="#c9c9c9" stroke="#000" stroke-width="0.9" stroke-linejoin="round" />
<path d="M825.1 142.1 C828.1 140.8 831.1 140.6 836.4 137.4 C841.7 134.1 839.4 134.3 844.9 129.8 C850.4 125.3 850.3 123.4 857.1 120.4 C863.9 117.4 864.7 121.1 870.3 118.5 C875.8 116.0 873.0 113.3 877.8 111.0 C882.5 108.8 882.1 110.8 888.1 110.1 C894.1 109.3 894.1 110.0 900.3 108.2 C906.6 106.5 905.6 106.3 911.6 103.5 C917.6 100.7 917.1 99.6 922.9 97.9 C928.7 96.1 929.7 95.2 933.3 96.9 C936.8 98.7 935.3 102.4 936.1 104.4" fill="none" stroke="#000" stroke-width="0.8" stroke-linejoin="round" />
<path d="M825.1 142.1 C824.5 144.6 822.9 145.4 822.9 151.5 C822.9 157.5 825.4 157.6 825.1 164.6 C824.8 171.6 821.7 171.3 821.7 177.8 C821.7 184.3 823.5 182.5 825.1 189.1 C826.8 195.6 825.9 195.2 828.0 202.2 C830.0 209.2 831.4 211.9 832.7 215.4" fill="none" stroke="#000" stroke-width="0.8" stroke-linejoin="round" />
<ellipse cx="832.7" cy="144.9" rx="3.6" ry="3.0" transform="rotate(-25 832.7 144.9)" fill="#c9c9c9" stroke="#000" stroke-width="0.8"/>
<ellipse cx="886.2" cy="117.6" rx="3.6" ry="3.0" transform="rotate(-25 886.2 117.6)" fill="#c9c9c9" stroke="#000" stroke-width="0.8"/>
<ellipse cx="931.4" cy="102.9" rx="3.6" ry="3.0" transform="rotate(-25 931.4 102.9)" fill="#c9c9c9" stroke="#000" stroke-width="0.8"/>
<ellipse cx="924.8" cy="144.9" rx="3.6" ry="3.0" transform="rotate(-25 924.8 144.9)" fill="#c9c9c9" stroke="#000" stroke-width="0.8"/>
<ellipse cx="921.0" cy="183.4" rx="3.6" ry="3.0" transform="rotate(-25 921.0 183.4)" fill="#c9c9c9" stroke="#000" stroke-width="0.8"/>
<ellipse cx="837.4" cy="211.6" rx="3.6" ry="3.0" transform="rotate(-25 837.4 211.6)" fill="#c9c9c9" stroke="#000" stroke-width="0.8"/>
<ellipse cx="831.7" cy="183.4" rx="3.6" ry="3.0" transform="rotate(-25 831.7 183.4)" fill="#c9c9c9" stroke="#000" stroke-width="0.8"/>
<path d="M843.0 154.3 L858.0 149.6 L858.6 211.6 L862.2 211.6 L861.8 236.1 L852.4 245.5 L844.9 246.4 L831.7 234.6 L831.7 217.3 L843.0 211.6 Z" fill="#c9c9c9" stroke="#000" stroke-width="0.9" stroke-linejoin="round" />
<path d="M858.0 159.0 L873.1 154.3 L873.5 212.6 L870.3 215.8 L866.9 211.6 L862.7 213.1 L859.0 211.6 Z" fill="#c9c9c9" stroke="#000" stroke-width="0.9" stroke-linejoin="round" />
<path d="M886.2 152.4 L901.3 144.9 L901.9 200.3 L895.1 203.2 L890.0 204.1 L889.1 209.7 L886.2 210.7 Z" fill="#c9c9c9" stroke="#000" stroke-width="0.9" stroke-linejoin="round" />
<path d="M898.5 123.9 C894.5 124.9 891.4 128.2 889.1 130.1 C886.8 132.1 889.1 133.1 884.9 135.4 C880.7 137.7 868.0 141.7 864.0 143.9 C860.0 146.2 862.0 147.4 860.9 148.9 C859.8 150.5 857.8 151.5 857.2 153.1 C856.6 154.8 856.4 158.3 857.2 158.9 C858.1 159.5 861.2 157.9 862.5 156.8 C863.8 155.6 861.2 154.2 865.1 152.1 C869.0 149.9 881.6 145.6 886.0 143.9 C890.3 142.2 889.4 143.2 891.2 141.8 C892.9 140.4 894.5 137.3 896.4 135.6 C898.3 133.8 899.9 132.9 902.7 131.4 C905.5 129.9 910.3 127.7 913.1 126.8 C915.9 125.9 917.1 125.3 919.4 126.2 C921.7 127.1 924.4 130.8 926.7 132.2 C929.0 133.7 931.1 135.2 933.0 135.1 C934.9 134.9 937.5 132.7 938.2 131.4 C938.9 130.1 938.5 128.8 937.4 127.2 C936.2 125.6 933.4 123.2 931.1 122.0 C928.8 120.8 926.6 119.9 923.6 120.2 C920.6 120.5 917.3 123.3 913.1 123.9 C908.9 124.5 902.5 122.8 898.5 123.9 Z" fill="#f58220" stroke="#000" stroke-width="0.8" stroke-linejoin="round" />
<path d="M906.9 114.7 L976.6 91.0 L975.6 95.7 L977.1 100.7 L908.9 125.1 Q902.7 126.0 902.5 120.9 Q902.5 116.6 906.9 114.7 Z" fill="#f58220" stroke="#000" stroke-width="0.8" stroke-linejoin="round" />
<path d="M938.9 116.7 L953.0 111.0 L954.9 112.0 L955.3 127.0 L948.3 129.3 L947.7 125.1 L941.7 127.0 L939.5 125.1 Z" fill="#c9c9c9" stroke="#000" stroke-width="0.9" stroke-linejoin="round" />
<path d="M940.8 118.5 L949.2 115.4 L949.2 117.6 L943.6 119.9 L943.6 124.2" fill="none" stroke="#000" stroke-width="0.7" stroke-linejoin="round" />
<path d="M913.1 135.4 C913.9 136.0 914.3 138.5 913.6 139.5 C912.9 140.6 910.9 140.7 908.9 141.6 C906.9 142.6 904.1 144.0 901.6 145.3 C899.2 146.5 896.9 147.8 894.3 149.2 C891.7 150.5 887.4 153.5 886.0 153.3 C884.5 153.2 884.0 149.9 885.8 148.1 C887.5 146.3 893.6 144.4 896.4 142.7 C899.2 140.9 900.6 138.8 902.7 137.7 C904.8 136.5 907.2 136.3 908.9 135.9 C910.7 135.5 912.3 134.8 913.1 135.4 Z" fill="#1c86d8" stroke="#000" stroke-width="0.7" stroke-linejoin="round" />
<path d="M871.8 154.3 L875.0 153.0 L875.0 168.4 L871.8 169.3 Z" fill="#1379c0" stroke="none" stroke-width="0" stroke-linejoin="round" />
<path d="M913.9 134.5 L917.3 133.6 L917.3 141.1 L913.9 142.1 Z" fill="#1379c0" stroke="none" stroke-width="0" stroke-linejoin="round" />
<path d="M885.7 159.9 L889.1 159.0 L889.1 163.7 L885.7 164.6 Z" fill="#1379c0" stroke="none" stroke-width="0" stroke-linejoin="round" />
<path d="M857.3 142.9 C856.1 142.3 852.1 143.6 849.4 144.7 C846.7 145.8 841.4 148.5 839.2 150.4 C837.1 152.3 835.8 154.1 835.1 157.2 C834.5 160.2 834.5 167.9 835.1 170.8 C835.8 173.6 838.4 174.4 839.2 176.2 C840.0 178.0 840.8 181.2 840.6 183.0 C840.4 184.8 838.1 187.4 837.9 188.4 C837.7 189.5 838.5 190.7 839.2 190.1 C840.0 189.5 842.3 186.4 842.9 184.4 C843.4 182.3 843.2 178.2 842.9 176.2 C842.6 174.2 841.0 173.3 840.7 170.8 C840.4 168.2 840.2 161.8 840.7 159.2 C841.2 156.6 841.7 155.0 844.2 153.4 C846.8 151.8 855.6 150.2 857.6 148.6 C859.5 147.0 858.5 143.5 857.3 142.9 Z" fill="#ee1a4b" stroke="#000" stroke-width="0.8" stroke-linejoin="round" />
<path d="M843.7 154.5 L845.6 153.4 L845.6 161.9 L843.7 162.3 Z" fill="#ee1a4b" stroke="none" stroke-width="0" stroke-linejoin="round" />
<path d="M844.9 153.7 L857.1 149.4 L857.1 199.3 L844.9 201.9 Z" fill="#9bd4be" stroke="#000" stroke-width="0.7" stroke-linejoin="round" />
<path d="M847.5 162.7 L854.5 160.3 L854.5 196.3 L856.5 204.7 L856.5 228.2 L857.1 229.7 L857.1 240.5 L844.9 241.3 L844.9 229.7 L845.4 228.2 L845.4 204.7 L847.5 196.3 Z" fill="#1cb7f0" stroke="#000" stroke-width="0.7" stroke-linejoin="round" />
<path d="M846.4 154.7 L855.6 151.4 L855.6 158.4 L846.4 161.6 Z" fill="#9bd4be" stroke="#000" stroke-width="0.7" stroke-linejoin="round" />
<ellipse cx="851.0" cy="155.0" rx="1.8" ry="1.6" transform="rotate(0 851.0 155.0)" fill="#9bd4be" stroke="#000" stroke-width="0.7"/>
<ellipse cx="851.0" cy="161.4" rx="2.6" ry="1.6" transform="rotate(0 851.0 161.4)" fill="#123" stroke="#000" stroke-width="0.5"/>
<path d="M846.2 165.7 V169.5 M855.8 162.3 V166.1" stroke="#000" stroke-width="0.6"/>
<path d="M846.2 171.8 V175.5 M855.8 168.3 V172.1" stroke="#000" stroke-width="0.6"/>
<path d="M846.2 177.8 V181.5 M855.8 174.4 V178.1" stroke="#000" stroke-width="0.6"/>
<path d="M846.2 183.8 V187.6 M855.8 180.4 V184.1" stroke="#000" stroke-width="0.6"/>
<path d="M846.2 189.8 V193.6 M855.8 186.4 V190.2" stroke="#000" stroke-width="0.6"/>
<path d="M845.8 229.7 L856.2 228.6 L856.2 239.5 L845.8 240.6 Z" fill="#2c2c2c" stroke="#000" stroke-width="0.6" stroke-linejoin="round" />
<path d="M846.4 231.2 L855.6 230.1" stroke="#8fd6f2" stroke-width="0.7"/>
<path d="M846.4 233.4 L855.6 232.3" stroke="#8fd6f2" stroke-width="0.7"/>
<path d="M846.4 235.7 L855.6 234.6" stroke="#8fd6f2" stroke-width="0.7"/>
<path d="M846.4 238.0 L855.6 236.8" stroke="#8fd6f2" stroke-width="0.7"/>
<path d="M874.0 151.1 L885.3 147.7 L885.3 180.5 L874.0 182.5 Z" fill="#9bd4be" stroke="#000" stroke-width="0.7" stroke-linejoin="round" />
<path d="M876.7 160.1 L882.7 158.3 L882.7 176.9 L884.7 185.3 L884.7 198.8 L885.3 200.3 L885.3 207.6 L874.0 208.2 L874.0 200.3 L874.6 198.8 L874.6 185.3 L876.7 176.9 Z" fill="#1cb7f0" stroke="#000" stroke-width="0.7" stroke-linejoin="round" />
<path d="M875.5 152.0 L883.8 149.5 L883.8 156.5 L875.5 159.0 Z" fill="#9bd4be" stroke="#000" stroke-width="0.7" stroke-linejoin="round" />
<ellipse cx="879.7" cy="152.8" rx="1.8" ry="1.6" transform="rotate(0 879.7 152.8)" fill="#9bd4be" stroke="#000" stroke-width="0.7"/>
<ellipse cx="879.7" cy="159.2" rx="2.6" ry="1.6" transform="rotate(0 879.7 159.2)" fill="#123" stroke="#000" stroke-width="0.5"/>
<path d="M875.3 163.1 V166.9 M884.0 160.4 V164.2" stroke="#000" stroke-width="0.6"/>
<path d="M875.3 169.1 V172.9 M884.0 166.4 V170.2" stroke="#000" stroke-width="0.6"/>
<path d="M875.3 175.1 V178.9 M884.0 172.4 V176.2" stroke="#000" stroke-width="0.6"/>
<path d="M875.0 200.3 L884.4 199.5 L884.4 206.6 L875.0 207.5 Z" fill="#2c2c2c" stroke="#000" stroke-width="0.6" stroke-linejoin="round" />
<path d="M875.5 201.9 L883.8 200.7" stroke="#8fd6f2" stroke-width="0.7"/>
<path d="M875.5 204.1 L883.8 203.0" stroke="#8fd6f2" stroke-width="0.7"/>
<path d="M875.5 206.4 L883.8 205.2" stroke="#8fd6f2" stroke-width="0.7"/>
<path d="M875.5 208.6 L883.8 207.5" stroke="#8fd6f2" stroke-width="0.7"/>
<path d="M902.2 128.5 L913.9 125.0 L913.9 168.0 L902.2 170.1 Z" fill="#9bd4be" stroke="#000" stroke-width="0.7" stroke-linejoin="round" />
<path d="M904.9 137.5 L911.3 135.6 L911.3 164.4 L913.3 172.9 L913.3 192.8 L913.9 194.3 L913.9 203.4 L902.2 204.1 L902.2 194.3 L902.8 192.8 L902.8 172.9 L904.9 164.4 Z" fill="#1cb7f0" stroke="#000" stroke-width="0.7" stroke-linejoin="round" />
<path d="M903.7 129.5 L912.4 126.9 L912.4 133.8 L903.7 136.4 Z" fill="#9bd4be" stroke="#000" stroke-width="0.7" stroke-linejoin="round" />
<ellipse cx="908.1" cy="130.2" rx="1.8" ry="1.6" transform="rotate(0 908.1 130.2)" fill="#9bd4be" stroke="#000" stroke-width="0.7"/>
<ellipse cx="908.1" cy="136.5" rx="2.6" ry="1.6" transform="rotate(0 908.1 136.5)" fill="#123" stroke="#000" stroke-width="0.5"/>
<path d="M903.5 140.5 V144.3 M912.6 137.8 V141.5" stroke="#000" stroke-width="0.6"/>
<path d="M903.5 146.6 V150.3 M912.6 143.8 V147.5" stroke="#000" stroke-width="0.6"/>
<path d="M903.5 152.6 V156.3 M912.6 149.8 V153.5" stroke="#000" stroke-width="0.6"/>
<path d="M903.5 158.6 V162.4 M912.6 155.8 V159.6" stroke="#000" stroke-width="0.6"/>
<path d="M903.2 194.3 L912.9 193.4 L912.9 202.5 L903.2 203.4 Z" fill="#2c2c2c" stroke="#000" stroke-width="0.6" stroke-linejoin="round" />
<path d="M903.7 195.8 L912.4 194.7" stroke="#8fd6f2" stroke-width="0.7"/>
<path d="M903.7 198.1 L912.4 197.0" stroke="#8fd6f2" stroke-width="0.7"/>
<path d="M903.7 200.3 L912.4 199.2" stroke="#8fd6f2" stroke-width="0.7"/>
<path d="M903.7 202.6 L912.4 201.5" stroke="#8fd6f2" stroke-width="0.7"/>
<path d="M867.4 211.6 L889.1 204.1 L889.1 209.7 L870.3 215.8 Z" fill="#c9c9c9" stroke="#000" stroke-width="0.8" stroke-linejoin="round" />
<path d="M894.7 202.2 L917.3 195.1 L917.6 200.3 L896.6 207.9 Z" fill="#c9c9c9" stroke="#000" stroke-width="0.8" stroke-linejoin="round" /><path d="M1025.5 425.3 C1010.7 438.1 1022.9 433.2 1023.3 439.4 C1023.6 445.7 1026.9 445.4 1027.0 452.0 C1027.2 458.6 1023.5 461.1 1023.9 467.6 C1024.3 474.2 1028.0 474.3 1028.6 480.2 C1029.2 486.0 1026.0 487.2 1026.4 492.7 C1026.8 498.2 1026.4 503.0 1030.2 503.7 C1034.0 504.4 1036.8 498.4 1042.7 495.9 C1048.5 493.3 1049.4 494.9 1055.2 492.7 C1061.1 490.5 1061.2 490.1 1067.8 486.5 C1074.4 482.8 1078.0 480.7 1083.4 477.1 C1088.9 473.4 1089.8 475.2 1091.3 470.8 C1092.7 466.4 1089.5 464.1 1089.7 458.2 C1089.9 452.4 1092.2 451.6 1092.2 445.7 C1092.2 439.9 1089.7 439.0 1089.7 433.2 C1089.7 427.3 1092.2 426.5 1092.2 420.6 C1092.2 414.8 1089.9 415.0 1089.7 408.1 C1089.5 401.1 1092.0 396.3 1091.3 390.8 C1090.6 385.4 1101.9 376.5 1086.6 384.6 C1071.2 392.6 1040.2 412.5 1025.5 425.3 Z" fill="#c9c9c9" stroke="#000" stroke-width="0.8" stroke-linejoin="round" />
<path d="M1047.4 436.3 C1049.6 432.6 1051.2 430.0 1055.2 430.0 C1059.3 430.0 1060.3 435.6 1064.6 436.3 C1069.0 437.0 1069.3 433.5 1074.0 433.2 C1078.8 432.8 1081.4 432.5 1085.0 434.7 C1088.7 436.9 1089.4 438.5 1089.7 442.6 C1090.1 446.6 1099.0 440.9 1086.6 452.0 C1074.1 463.1 1050.3 482.9 1036.4 490.2 C1022.5 497.5 1029.2 487.9 1027.0 483.3 C1024.8 478.8 1023.0 476.6 1027.0 470.8 C1031.0 464.9 1039.9 464.1 1044.3 458.2 C1048.7 452.4 1045.1 450.8 1045.8 445.7 C1046.6 440.6 1045.2 440.0 1047.4 436.3 Z" fill="#c9c9c9" stroke="#000" stroke-width="0.8" stroke-linejoin="round" />
<ellipse cx="1054.3" cy="446.3" rx="2.6" ry="3.6" transform="rotate(25 1054.3 446.3)" fill="#c9c9c9" stroke="#000" stroke-width="0.8"/>
<ellipse cx="1078.1" cy="450.4" rx="2.6" ry="3.6" transform="rotate(25 1078.1 450.4)" fill="#c9c9c9" stroke="#000" stroke-width="0.8"/>
<ellipse cx="1034.9" cy="477.1" rx="2.6" ry="3.6" transform="rotate(25 1034.9 477.1)" fill="#c9c9c9" stroke="#000" stroke-width="0.8"/>
<ellipse cx="1060.9" cy="461.4" rx="3.4" ry="4.6" transform="rotate(25 1060.9 461.4)" fill="#ee1a4b" stroke="#000" stroke-width="0.8"/>
<ellipse cx="1047.4" cy="469.8" rx="3.4" ry="4.6" transform="rotate(25 1047.4 469.8)" fill="#ee1a4b" stroke="#000" stroke-width="0.8"/>
<path d="M995.7 282.7 L1010.4 289.6 L1010.4 434.7 L1005.1 420.6 C1003.6 417.0 999.5 412.3 998.8 405.0 C998.1 397.6 1002.3 396.6 1001.9 389.3 C1001.6 382.0 998.7 380.9 997.2 373.6 C995.8 366.3 996.8 364.5 995.7 357.9 C994.6 351.3 992.2 352.0 992.5 345.4 C992.9 338.8 996.7 337.0 997.2 329.7 C997.8 322.4 995.0 321.4 995.0 314.0 C995.0 306.7 996.7 302.0 997.2 298.4 Z" fill="#c9c9c9" stroke="#000" stroke-width="0.8" stroke-linejoin="round" />
<path d="M995.7 282.7 C1000.1 281.1 1006.4 279.5 1014.5 275.8 C1022.5 272.1 1022.8 272.1 1030.2 267.0 C1037.5 261.9 1037.1 259.0 1045.8 253.9 C1054.6 248.7 1061.2 249.5 1067.8 245.1 C1074.4 240.7 1070.8 238.0 1074.0 235.0 C1077.3 232.1 1080.1 233.1 1081.9 232.5 L1096.6 241.3 L1010.4 289.6 Z" fill="#c9c9c9" stroke="#000" stroke-width="0.8" stroke-linejoin="round" />
<path d="M1010.4 289.6 L1096.6 241.3 L1096.6 384.6 L1010.4 434.7 Z" fill="#c9c9c9" stroke="#000" stroke-width="0.9" stroke-linejoin="round" />
<ellipse cx="1086.6" cy="254.5" rx="3.4" ry="4.8" transform="rotate(28 1086.6 254.5)" fill="#c9c9c9" stroke="#000" stroke-width="0.8"/>
<ellipse cx="1017.0" cy="295.2" rx="3.4" ry="4.8" transform="rotate(28 1017.0 295.2)" fill="#c9c9c9" stroke="#000" stroke-width="0.8"/>
<ellipse cx="1086.6" cy="324.1" rx="3.4" ry="4.8" transform="rotate(28 1086.6 324.1)" fill="#c9c9c9" stroke="#000" stroke-width="0.8"/>
<ellipse cx="1087.5" cy="383.9" rx="3.4" ry="4.8" transform="rotate(28 1087.5 383.9)" fill="#c9c9c9" stroke="#000" stroke-width="0.8"/>
<ellipse cx="1017.0" cy="425.3" rx="3.4" ry="4.8" transform="rotate(28 1017.0 425.3)" fill="#c9c9c9" stroke="#000" stroke-width="0.8"/>
<ellipse cx="1017.0" cy="364.2" rx="3.4" ry="4.8" transform="rotate(28 1017.0 364.2)" fill="#c9c9c9" stroke="#000" stroke-width="0.8"/>
<ellipse cx="1083.4" cy="279.6" rx="3.2" ry="4.8" transform="rotate(28 1083.4 279.6)" fill="#1cb7f0" stroke="#000" stroke-width="0.7"/>
<ellipse cx="1056.8" cy="302.1" rx="3.2" ry="4.8" transform="rotate(28 1056.8 302.1)" fill="#1cb7f0" stroke="#000" stroke-width="0.7"/>
<ellipse cx="1028.6" cy="410.6" rx="3.2" ry="4.8" transform="rotate(28 1028.6 410.6)" fill="#1cb7f0" stroke="#000" stroke-width="0.7"/>
<ellipse cx="1056.2" cy="365.8" rx="2.2" ry="3.4" transform="rotate(28 1056.2 365.8)" fill="#1cb7f0" stroke="#000" stroke-width="0.7"/>
<ellipse cx="1044.3" cy="348.5" rx="1.9" ry="2.9" transform="rotate(28 1044.3 348.5)" fill="#1cb7f0" stroke="#000" stroke-width="0.7"/>
<ellipse cx="1086.6" cy="349.5" rx="1.9" ry="2.9" transform="rotate(28 1086.6 349.5)" fill="#1cb7f0" stroke="#000" stroke-width="0.7"/>
<ellipse cx="1074.7" cy="343.2" rx="1.8" ry="2.6" transform="rotate(28 1074.7 343.2)" fill="#1cb7f0" stroke="#000" stroke-width="0.7"/>
<ellipse cx="1017.0" cy="349.5" rx="1.9" ry="2.6" transform="rotate(28 1017.0 349.5)" fill="#ee1a4b" stroke="#000" stroke-width="0.7"/>
<ellipse cx="1017.0" cy="374.2" rx="2.2" ry="3.1" transform="rotate(28 1017.0 374.2)" fill="#ee1a4b" stroke="#000" stroke-width="0.7"/>
<ellipse cx="1038.0" cy="387.1" rx="2.0" ry="3.0" transform="rotate(20 1038.0 387.1)" fill="#c9c9c9" stroke="#000" stroke-width="0.8"/>
<ellipse cx="1033.3" cy="326.6" rx="9.5" ry="14.0" transform="rotate(28 1033.3 326.6)" fill="#ee1a4b" stroke="#000" stroke-width="0.9"/>
<ellipse cx="1035.5" cy="327.5" rx="7.5" ry="11.5" transform="rotate(28 1035.5 327.5)" fill="#ee1a4b" stroke="#000" stroke-width="0.7"/>
<path d="M1033.9 317.8 L1037.1 336.6" stroke="#000" stroke-width="0.7"/>
<ellipse cx="1038.6" cy="330.3" rx="1.3" ry="1.8" transform="rotate(28 1038.6 330.3)" fill="#ee1a4b" stroke="#000" stroke-width="0.6"/><path d="M1114.4 350.6 L1124.8 345.4 L1124.8 329.2 L1175.7 298.4 L1201.8 312.2 L1201.8 470.2 L1191.9 478.5 L1191.9 501.5 L1183.6 510.6 L1170.5 508.0 L1168.4 504.1 L1161.4 509.3 L1160.6 519.8 L1152.2 523.7 L1143.1 519.8 L1141.8 511.9 L1124.8 511.9 L1123.5 504.1 L1114.4 496.3 Z" fill="#c9c9c9" stroke="#000" stroke-width="0.9" stroke-linejoin="round" />
<path d="M1124.4 328.2 L1139.5 334.1 L1139.5 351.5 L1126.3 345.2 L1114.4 350.2" fill="none" stroke="#000" stroke-width="0.8" stroke-linejoin="round" />
<path d="M1139.5 334.1 L1142.6 332.6" fill="none" stroke="#000" stroke-width="0.8" stroke-linejoin="round" />
<path d="M1124.4 344.6 L1126.3 345.2" fill="none" stroke="#000" stroke-width="0.8" stroke-linejoin="round" />
<path d="M1130.8 357.9 L1130.8 498.9 L1124.8 511.9" fill="none" stroke="#000" stroke-width="0.8" stroke-linejoin="round" />
<path d="M1114.4 496.3 L1130.8 498.9" fill="none" stroke="#000" stroke-width="0.0" stroke-linejoin="round" />
<path d="M1191.9 318.7 L1191.9 478.5" fill="none" stroke="#000" stroke-width="0.8" stroke-linejoin="round" />
<path d="M1191.9 318.7 L1201.8 312.2" fill="none" stroke="#000" stroke-width="0.0" stroke-linejoin="round" />
<ellipse cx="1136.6" cy="363.6" rx="3.4" ry="5.2" transform="rotate(25 1136.6 363.6)" fill="#c9c9c9" stroke="#000" stroke-width="0.8"/>
<ellipse cx="1136.6" cy="432.3" rx="3.4" ry="5.2" transform="rotate(25 1136.6 432.3)" fill="#c9c9c9" stroke="#000" stroke-width="0.8"/>
<ellipse cx="1136.6" cy="493.1" rx="3.4" ry="5.2" transform="rotate(25 1136.6 493.1)" fill="#c9c9c9" stroke="#000" stroke-width="0.8"/>
<ellipse cx="1194.5" cy="330.5" rx="3.4" ry="5.2" transform="rotate(25 1194.5 330.5)" fill="#c9c9c9" stroke="#000" stroke-width="0.8"/>
<ellipse cx="1194.5" cy="374.1" rx="3.4" ry="5.2" transform="rotate(25 1194.5 374.1)" fill="#c9c9c9" stroke="#000" stroke-width="0.8"/>
<ellipse cx="1194.5" cy="459.7" rx="3.4" ry="5.2" transform="rotate(25 1194.5 459.7)" fill="#c9c9c9" stroke="#000" stroke-width="0.8"/>
<ellipse cx="1137.1" cy="418.5" rx="1.6" ry="2.4" transform="rotate(25 1137.1 418.5)" fill="#c9c9c9" stroke="#000" stroke-width="0.7"/>
<ellipse cx="1165.8" cy="470.7" rx="1.6" ry="2.4" transform="rotate(25 1165.8 470.7)" fill="#c9c9c9" stroke="#000" stroke-width="0.7"/>
<ellipse cx="1194.5" cy="403.6" rx="1.8" ry="2.6" transform="rotate(25 1194.5 403.6)" fill="#1379c0" stroke="#000" stroke-width="0.6"/>
<ellipse cx="1138.1" cy="460.2" rx="1.4" ry="2.0" transform="rotate(25 1138.1 460.2)" fill="#ee1a4b" stroke="#000" stroke-width="0.6"/>
<path d="M1131.3 376.2 C1133.2 376.8 1136.7 375.7 1139.2 378.8 C1141.6 381.8 1142.7 383.7 1141.8 389.2 C1140.9 394.7 1137.7 398.3 1135.2 402.3 C1132.8 406.2 1132.2 405.3 1131.3 406.2" fill="none" stroke="#000" stroke-width="0.7" stroke-linejoin="round" />
<path d="M1191.9 346.1 C1190.9 347.4 1188.2 348.0 1187.5 351.4 C1186.7 354.7 1187.7 357.8 1188.8 360.5 C1189.8 363.2 1191.2 362.5 1191.9 363.1" fill="none" stroke="#000" stroke-width="0.7" stroke-linejoin="round" />
<path d="M1191.9 384.0 C1190.9 385.8 1187.9 386.3 1187.5 391.8 C1187.0 397.3 1189.0 402.6 1190.1 407.5 C1191.1 412.4 1191.5 411.5 1191.9 412.7" fill="none" stroke="#000" stroke-width="0.7" stroke-linejoin="round" />
<path d="M1147.7 382.8 C1146.9 384.3 1144.1 387.8 1143.9 390.4 C1143.6 392.9 1146.5 393.1 1146.4 395.4 C1146.3 397.6 1143.3 399.1 1143.3 401.6 C1143.3 404.2 1146.3 405.4 1146.4 407.9 C1146.5 410.4 1143.6 412.7 1143.9 414.2 C1144.1 415.7 1146.9 415.2 1147.7 415.5 Z" fill="#ee1a4b" stroke="#000" stroke-width="0.7" stroke-linejoin="round" />
<path d="M1156.4 382.8 C1157.0 383.3 1159.1 383.8 1159.2 385.3 C1159.3 386.8 1157.5 389.4 1157.1 390.4 Z" fill="#ee1a4b" stroke="#000" stroke-width="0.7" stroke-linejoin="round" />
<path d="M1156.4 401.6 Q1170.2 394.1 1173.4 376.6 L1174.3 382.8 Q1171.5 399.1 1156.4 406.7 Z" fill="#ee1a4b" stroke="#000" stroke-width="0.7" stroke-linejoin="round" />
<path d="M1146.5 425.8 C1145.6 427.1 1142.6 429.7 1142.3 432.3 C1142.0 434.9 1145.0 436.0 1144.9 438.8 C1144.8 441.7 1141.5 443.0 1141.8 446.7 C1142.1 450.3 1145.5 455.0 1146.5 457.1 Z" fill="#1379c0" stroke="#000" stroke-width="0.6" stroke-linejoin="round" />
<path d="M1155.4 425.8 C1156.2 427.1 1159.2 429.7 1159.5 432.3 C1159.8 434.9 1156.8 436.0 1156.9 438.8 C1157.0 441.7 1160.4 443.0 1160.1 446.7 C1159.7 450.3 1156.3 455.0 1155.4 457.1 Z" fill="#1379c0" stroke="#000" stroke-width="0.6" stroke-linejoin="round" />
<path d="M1146.5 470.2 C1145.8 471.2 1143.1 473.3 1143.1 475.4 C1143.1 477.5 1145.8 479.6 1146.5 480.6 Z" fill="#1cb7f0" stroke="#000" stroke-width="0.6" stroke-linejoin="round" />
<path d="M1155.4 463.6 C1156.1 464.4 1159.0 465.7 1159.0 467.5 C1159.0 469.4 1156.1 471.7 1155.4 472.8 Z" fill="#1cb7f0" stroke="#000" stroke-width="0.6" stroke-linejoin="round" />
<path d="M1174.4 346.1 C1173.7 347.2 1171.2 349.3 1171.0 351.4 C1170.9 353.4 1173.7 354.5 1173.6 356.6 C1173.5 358.7 1170.3 359.5 1170.5 361.8 C1170.7 364.2 1173.6 367.0 1174.4 368.3 Z" fill="#1cb7f0" stroke="#000" stroke-width="0.6" stroke-linejoin="round" />
<path d="M1184.9 346.1 C1185.5 347.2 1188.1 349.3 1188.3 351.4 C1188.4 353.4 1185.5 354.5 1185.6 356.6 C1185.7 358.7 1188.9 359.5 1188.8 361.8 C1188.6 364.2 1185.6 367.0 1184.9 368.3 Z" fill="#1cb7f0" stroke="#000" stroke-width="0.6" stroke-linejoin="round" />
<path d="M1174.4 387.9 C1173.7 389.0 1171.2 391.0 1171.0 393.1 C1170.9 395.2 1173.7 396.3 1173.6 398.4 C1173.5 400.4 1170.3 401.7 1170.5 403.6 C1170.7 405.4 1173.6 406.7 1174.4 407.5 Z" fill="#1cb7f0" stroke="#000" stroke-width="0.6" stroke-linejoin="round" />
<path d="M1184.9 387.9 C1185.5 389.0 1188.1 391.0 1188.3 393.1 C1188.4 395.2 1185.5 396.3 1185.6 398.4 C1185.7 400.4 1188.9 401.7 1188.8 403.6 C1188.6 405.4 1185.6 406.7 1184.9 407.5 Z" fill="#1cb7f0" stroke="#000" stroke-width="0.6" stroke-linejoin="round" />
<path d="M1184.9 368.3 C1185.5 369.0 1188.0 370.2 1188.0 371.5 C1188.0 372.8 1185.5 374.2 1184.9 374.9 Z" fill="#1cb7f0" stroke="#000" stroke-width="0.6" stroke-linejoin="round" />
<path d="M1174.4 457.1 C1173.7 458.1 1171.0 459.7 1171.0 462.3 C1171.0 464.9 1173.7 468.6 1174.4 470.2 Z" fill="#1cb7f0" stroke="#000" stroke-width="0.6" stroke-linejoin="round" />
<path d="M1146.5 346.1 L1155.4 346.1 L1155.4 491.0 L1146.5 491.0 Z" fill="#9bd4be" stroke="#000" stroke-width="0.9" stroke-linejoin="round" />
<path d="M1145.9 364.4 H1156.0" stroke="#000" stroke-width="1.1"/>
<path d="M1146.5 367.5 H1155.4" stroke="#000" stroke-width="0.6"/>
<path d="M1145.9 387.1 H1156.0" stroke="#000" stroke-width="1.1"/>
<path d="M1146.5 390.3 H1155.4" stroke="#000" stroke-width="0.6"/>
<path d="M1145.9 412.7 H1156.0" stroke="#000" stroke-width="1.1"/>
<path d="M1146.5 415.8 H1155.4" stroke="#000" stroke-width="0.6"/>
<path d="M1145.9 458.4 H1156.0" stroke="#000" stroke-width="1.1"/>
<path d="M1146.5 461.5 H1155.4" stroke="#000" stroke-width="0.6"/>
<path d="M1174.4 334.4 L1184.9 334.4 L1184.9 481.9 L1174.4 481.9 Z" fill="#9bd4be" stroke="#000" stroke-width="0.9" stroke-linejoin="round" />
<path d="M1173.8 369.6 H1185.5" stroke="#000" stroke-width="1.1"/>
<path d="M1174.4 372.8 H1184.9" stroke="#000" stroke-width="0.6"/>
<path d="M1173.8 387.1 H1185.5" stroke="#000" stroke-width="1.1"/>
<path d="M1174.4 390.3 H1184.9" stroke="#000" stroke-width="0.6"/>
<path d="M1173.8 412.7 H1185.5" stroke="#000" stroke-width="1.1"/>
<path d="M1174.4 415.8 H1184.9" stroke="#000" stroke-width="0.6"/>
<path d="M1173.8 457.1 H1185.5" stroke="#000" stroke-width="1.1"/>
<path d="M1174.4 460.2 H1184.9" stroke="#000" stroke-width="0.6"/>
<path d="M1146.0 488.4 L1155.9 488.4 L1155.9 506.7 L1146.0 506.7 Z" fill="#ee1a4b" stroke="#000" stroke-width="0.8" stroke-linejoin="round" />
<ellipse cx="1150.9" cy="506.7" rx="5.6" ry="3.2" transform="rotate(0 1150.9 506.7)" fill="#ee1a4b" stroke="#000" stroke-width="0.8"/>
<ellipse cx="1151.2" cy="511.4" rx="7.2" ry="3.0" transform="rotate(0 1151.2 511.4)" fill="#c9c9c9" stroke="#000" stroke-width="0.8"/>
<ellipse cx="1151.2" cy="514.0" rx="7.2" ry="3.0" transform="rotate(0 1151.2 514.0)" fill="#c9c9c9" stroke="#000" stroke-width="0.8"/>
<ellipse cx="1151.2" cy="516.6" rx="7.2" ry="3.0" transform="rotate(0 1151.2 516.6)" fill="#c9c9c9" stroke="#000" stroke-width="0.8"/>
<ellipse cx="1151.2" cy="519.2" rx="7.2" ry="3.0" transform="rotate(0 1151.2 519.2)" fill="#c9c9c9" stroke="#000" stroke-width="0.8"/>
<path d="M1173.6 481.1 L1186.2 481.1 L1186.2 489.7 L1173.6 489.7 Z" fill="#1cb7f0" stroke="#000" stroke-width="0.8" stroke-linejoin="round" />
<ellipse cx="1179.9" cy="484.5" rx="5.0" ry="2.6" transform="rotate(0 1179.9 484.5)" fill="#1cb7f0" stroke="#000" stroke-width="0.7"/>
<ellipse cx="1180.4" cy="492.3" rx="8.0" ry="3.2" transform="rotate(0 1180.4 492.3)" fill="#c9c9c9" stroke="#000" stroke-width="0.8"/>
<ellipse cx="1180.4" cy="495.0" rx="8.0" ry="3.2" transform="rotate(0 1180.4 495.0)" fill="#c9c9c9" stroke="#000" stroke-width="0.8"/>
<ellipse cx="1180.4" cy="497.6" rx="8.0" ry="3.2" transform="rotate(0 1180.4 497.6)" fill="#c9c9c9" stroke="#000" stroke-width="0.8"/>
<path d="M1169.2 498.9 L1178.3 502.8 L1192.7 496.8 L1192.7 504.6 L1180.9 511.4 L1170.0 507.2 Z" fill="#c9c9c9" stroke="#000" stroke-width="0.8" stroke-linejoin="round" />
<path d="M1142.0 337.0 L1160.2 335.8 L1158.3 344.6 L1144.5 345.2 Z" fill="#0e4f74" stroke="#000" stroke-width="0.7" stroke-linejoin="round" />
<ellipse cx="1151.4" cy="347.1" rx="6.6" ry="4.6" transform="rotate(0 1151.4 347.1)" fill="#1cb7f0" stroke="#000" stroke-width="0.8"/>
<path d="M1148.3 343.3 L1154.9 343.3 L1154.9 349.0 L1148.3 349.0 Z" fill="#1cb7f0" stroke="#000" stroke-width="0.7" stroke-linejoin="round" />
<path d="M1137.0 322.0 L1140.8 330.8 L1156.4 332.4 L1167.1 328.2 L1167.1 333.0 L1156.4 337.2 L1140.8 335.5 L1137.0 326.7 Z" fill="#c9c9c9" stroke="#000" stroke-width="0.8" stroke-linejoin="round" />
<path d="M1137.0 322.0 L1146.4 316.3 L1160.2 317.6 L1167.1 328.2 L1156.4 332.4 L1140.8 330.8 Z" fill="#c9c9c9" stroke="#000" stroke-width="0.8" stroke-linejoin="round" />
<path d="M1140.8 330.8 V335.5 M1156.4 332.4 V337.2" stroke="#000" stroke-width="0.7"/>
<path d="M1170.2 319.5 L1188.4 318.8 L1186.6 327.0 L1172.8 327.4 Z" fill="#0e4f74" stroke="#000" stroke-width="0.7" stroke-linejoin="round" />
<ellipse cx="1180.3" cy="330.8" rx="7.0" ry="4.8" transform="rotate(0 1180.3 330.8)" fill="#1cb7f0" stroke="#000" stroke-width="0.8"/>
<path d="M1176.8 326.4 L1184.0 326.4 L1184.0 332.6 L1176.8 332.6 Z" fill="#1cb7f0" stroke="#000" stroke-width="0.7" stroke-linejoin="round" />
<path d="M1165.9 305.0 L1169.0 312.6 L1182.8 315.1 L1194.7 310.1 L1194.7 315.1 L1182.8 320.1 L1169.0 317.6 L1165.9 310.1 Z" fill="#c9c9c9" stroke="#000" stroke-width="0.8" stroke-linejoin="round" />
<path d="M1165.9 305.0 L1177.1 298.1 L1190.3 300.6 L1194.7 310.1 L1182.8 315.1 L1169.0 312.6 Z" fill="#c9c9c9" stroke="#000" stroke-width="0.8" stroke-linejoin="round" />
<path d="M1169.0 312.6 V317.6 M1182.8 315.1 V320.1" stroke="#000" stroke-width="0.7"/><path d="M1274.6 373.0 L1284.5 365.8 L1292.1 370.2 L1292.1 387.3 L1282.3 393.9 L1274.6 390.6 Z" fill="#c9c9c9" stroke="#000" stroke-width="0.8" stroke-linejoin="round" />
<path d="M1274.6 373.0 L1282.3 376.8 L1282.3 393.9" fill="none" stroke="#000" stroke-width="0.8" stroke-linejoin="round" />
<path d="M1282.3 376.8 L1292.1 370.2" fill="none" stroke="#000" stroke-width="0.7" stroke-linejoin="round" />
<ellipse cx="1285.6" cy="382.5" rx="5.0" ry="6.4" transform="rotate(20 1285.6 382.5)" fill="#c9c9c9" stroke="#000" stroke-width="0.8"/>
<ellipse cx="1285.6" cy="382.5" rx="3.2" ry="4.4" transform="rotate(20 1285.6 382.5)" fill="#c9c9c9" stroke="#000" stroke-width="0.7"/>
<path d="M1274.6 415.8 L1284.5 409.2 L1292.1 413.6 L1292.1 431.2 L1282.3 437.3 L1274.6 434.5 Z" fill="#c9c9c9" stroke="#000" stroke-width="0.8" stroke-linejoin="round" />
<ellipse cx="1285.6" cy="424.6" rx="5.0" ry="6.4" transform="rotate(20 1285.6 424.6)" fill="#c9c9c9" stroke="#000" stroke-width="0.8"/>
<ellipse cx="1285.6" cy="424.6" rx="3.2" ry="4.4" transform="rotate(20 1285.6 424.6)" fill="#c9c9c9" stroke="#000" stroke-width="0.7"/>
<path d="M1270.2 437.8 L1291.0 448.7 A 7 9 20 0 1 1293.2 468.5 L1270.2 457.5 Z" fill="#c9c9c9" stroke="#000" stroke-width="0.8" stroke-linejoin="round" />
<ellipse cx="1292.1" cy="459.0" rx="6.2" ry="8.2" transform="rotate(20 1292.1 459.0)" fill="#c9c9c9" stroke="#000" stroke-width="0.8"/>
<ellipse cx="1292.1" cy="459.0" rx="4.0" ry="5.6" transform="rotate(20 1292.1 459.0)" fill="#1379c0" stroke="#000" stroke-width="0.7"/>
<path d="M1223.0 380.7 L1240.6 379.6 L1243.9 366.5 L1252.7 364.9 L1272.4 369.7 L1275.7 374.1 L1275.7 404.8 L1268.0 413.6 L1269.1 437.8 L1275.7 446.5 L1276.8 486.0 L1290.0 493.7 L1291.0 516.7 L1284.5 523.3 L1284.5 548.6 L1272.4 554.0 L1257.5 545.3 L1256.6 566.1 L1249.4 569.4 L1236.2 563.9 L1223.0 566.1 Z" fill="#c9c9c9" stroke="#000" stroke-width="0.9" stroke-linejoin="round" />
<path d="M1209.9 408.1 L1227.4 400.9 L1232.9 403.8 L1232.9 422.4 L1217.6 429.0 L1209.9 424.6 Z" fill="#c9c9c9" stroke="#000" stroke-width="0.8" stroke-linejoin="round" />
<path d="M1209.9 408.1 L1217.6 412.5 L1217.6 429.0" fill="none" stroke="#000" stroke-width="0.8" stroke-linejoin="round" />
<path d="M1217.6 412.5 L1232.9 404.8" fill="none" stroke="#000" stroke-width="0.7" stroke-linejoin="round" />
<ellipse cx="1225.2" cy="416.9" rx="5.2" ry="6.4" transform="rotate(20 1225.2 416.9)" fill="#c9c9c9" stroke="#000" stroke-width="0.8"/>
<ellipse cx="1225.2" cy="416.9" rx="3.4" ry="4.4" transform="rotate(20 1225.2 416.9)" fill="#c9c9c9" stroke="#000" stroke-width="0.7"/>
<path d="M1223.0 468.5 L1229.6 459.7 L1236.2 462.3 L1241.7 455.3 L1250.5 453.1 L1257.5 457.5 L1257.5 503.6 L1232.9 523.3 L1223.0 516.7 Z" fill="#c9c9c9" stroke="#000" stroke-width="0.8" stroke-linejoin="round" />
<path d="M1229.6 459.7 L1229.6 499.2 L1223.0 503.6" fill="none" stroke="#000" stroke-width="0.7" stroke-linejoin="round" />
<ellipse cx="1234.0" cy="488.9" rx="3.4" ry="5.0" transform="rotate(15 1234.0 488.9)" fill="#c9c9c9" stroke="#000" stroke-width="0.8"/>
<ellipse cx="1250.9" cy="469.6" rx="1.4" ry="2.2" transform="rotate(15 1250.9 469.6)" fill="#ee1a4b" stroke="#000" stroke-width="0.6"/>
<path d="M1233.3 389.5 V422.4 M1233.3 429.0 V455.3" stroke="#000" stroke-width="0.8" fill="none"/>
<path d="M1240.6 370.8 Q1242.8 380.7 1252.7 376.3" fill="none" stroke="#000" stroke-width="0.8" stroke-linejoin="round" />
<path d="M1265.8 356.1 Q1273.5 359.9 1269.8 365.4 Q1265.8 368.6 1262.5 365.4" fill="none" stroke="#000" stroke-width="0.8" stroke-linejoin="round" />
<path d="M1245.0 382.9 L1249.4 411.4 L1257.5 415.8 L1252.7 382.9" fill="none" stroke="#000" stroke-width="0.7" stroke-linejoin="round" />
<path d="M1247.2 400.5 L1257.5 404.8" fill="none" stroke="#000" stroke-width="0.6" stroke-linejoin="round" />
<path d="M1272.4 382.9 L1268.5 407.0 L1265.8 415.8" fill="none" stroke="#000" stroke-width="0.7" stroke-linejoin="round" />
<ellipse cx="1275.7" cy="424.6" rx="4.4" ry="6.2" transform="rotate(20 1275.7 424.6)" fill="#c9c9c9" stroke="#000" stroke-width="0.8"/>
<ellipse cx="1275.7" cy="424.6" rx="3.2" ry="4.8" transform="rotate(20 1275.7 424.6)" fill="#1cb7f0" stroke="#000" stroke-width="0.7"/>
<ellipse cx="1275.7" cy="455.3" rx="4.4" ry="6.2" transform="rotate(20 1275.7 455.3)" fill="#c9c9c9" stroke="#000" stroke-width="0.8"/>
<ellipse cx="1275.7" cy="455.3" rx="3.2" ry="4.8" transform="rotate(20 1275.7 455.3)" fill="#1cb7f0" stroke="#000" stroke-width="0.7"/>
<path d="M1261.4 405.9 L1265.6 405.9 L1265.6 501.4 L1250.7 508.4 L1250.7 563.3 L1247.2 561.7 L1247.2 506.2 L1259.7 500.1 L1232.9 476.8 L1234.7 473.7 L1261.4 490.9 Z" fill="#ee1a4b" stroke="#000" stroke-width="1.0" stroke-linejoin="round" />
<ellipse cx="1233.8" cy="475.1" rx="1.6" ry="2.6" transform="rotate(-30 1233.8 475.1)" fill="#ee1a4b" stroke="#000" stroke-width="0.7"/>
<path d="M1257.5 374.6 L1268.5 374.6 L1267.6 389.5 L1258.8 389.5 Z" fill="#1379c0" stroke="#000" stroke-width="0.7" stroke-linejoin="round" />
<ellipse cx="1263.0" cy="375.9" rx="5.2" ry="1.6" transform="rotate(0 1263.0 375.9)" fill="#1cb7f0" stroke="#000" stroke-width="0.6"/>
<ellipse cx="1263.0" cy="378.7" rx="5.2" ry="1.6" transform="rotate(0 1263.0 378.7)" fill="#1cb7f0" stroke="#000" stroke-width="0.6"/>
<ellipse cx="1263.0" cy="381.6" rx="5.2" ry="1.6" transform="rotate(0 1263.0 381.6)" fill="#1cb7f0" stroke="#000" stroke-width="0.6"/>
<ellipse cx="1263.0" cy="384.4" rx="5.2" ry="1.6" transform="rotate(0 1263.0 384.4)" fill="#1cb7f0" stroke="#000" stroke-width="0.6"/>
<ellipse cx="1263.0" cy="387.3" rx="5.2" ry="1.6" transform="rotate(0 1263.0 387.3)" fill="#1cb7f0" stroke="#000" stroke-width="0.6"/>
<path d="M1261.2 389.9 L1265.4 389.9 L1265.4 405.9 L1261.2 405.9 Z" fill="#1cb7f0" stroke="#000" stroke-width="0.7" stroke-linejoin="round" />
<ellipse cx="1263.2" cy="393.9" rx="1.6" ry="2.2" transform="rotate(0 1263.2 393.9)" fill="#c9c9c9" stroke="#000" stroke-width="0.6"/>
<path d="M1261.2 506.2 L1265.4 506.2 L1265.4 516.7 L1261.2 516.7 Z" fill="#1cb7f0" stroke="#000" stroke-width="0.7" stroke-linejoin="round" />
<path d="M1258.8 516.7 L1267.6 516.7 L1266.9 531.0 L1259.7 531.0 Z" fill="#1379c0" stroke="#000" stroke-width="0.7" stroke-linejoin="round" />
<ellipse cx="1263.2" cy="518.9" rx="4.6" ry="1.6" transform="rotate(0 1263.2 518.9)" fill="#1cb7f0" stroke="#000" stroke-width="0.6"/>
<ellipse cx="1263.2" cy="522.0" rx="4.6" ry="1.6" transform="rotate(0 1263.2 522.0)" fill="#1cb7f0" stroke="#000" stroke-width="0.6"/>
<ellipse cx="1263.2" cy="525.1" rx="4.6" ry="1.6" transform="rotate(0 1263.2 525.1)" fill="#1cb7f0" stroke="#000" stroke-width="0.6"/>
<ellipse cx="1263.2" cy="528.1" rx="4.6" ry="1.6" transform="rotate(0 1263.2 528.1)" fill="#1cb7f0" stroke="#000" stroke-width="0.6"/>
<path d="M1266.9 518.9 L1275.7 512.4 Q1280.7 510.2 1280.7 516.7 L1280.7 543.1" fill="none" stroke="#000" stroke-width="3.0" stroke-linejoin="round" />
<path d="M1266.9 518.9 L1275.7 512.4 Q1280.7 510.2 1280.7 516.7 L1280.7 543.1" fill="none" stroke="#1cb7f0" stroke-width="1.6" stroke-linejoin="round" />
<path d="M1230.7 513.4 L1245.0 505.3 L1247.2 511.3 L1232.9 520.0 Z" fill="#1cb7f0" stroke="#000" stroke-width="0.8" stroke-linejoin="round" />
<ellipse cx="1234.7" cy="515.6" rx="3.4" ry="4.6" transform="rotate(-30 1234.7 515.6)" fill="#1379c0" stroke="#000" stroke-width="0.7"/>
<ellipse cx="1241.2" cy="512.4" rx="1.6" ry="2.2" transform="rotate(-30 1241.2 512.4)" fill="#c9c9c9" stroke="#000" stroke-width="0.6"/>
<path d="M1247.2 506.2 L1257.5 501.4 L1258.8 503.6 L1248.7 508.4 Z" fill="#ee1a4b" stroke="#000" stroke-width="0.6" stroke-linejoin="round" />
<path d="M1209.9 536.5 L1226.3 528.8 L1235.1 533.2 L1235.1 557.3 L1218.6 566.1 L1209.9 560.6 Z" fill="#c9c9c9" stroke="#000" stroke-width="0.8" stroke-linejoin="round" />
<path d="M1209.9 536.5 L1218.6 541.3 L1218.6 566.1" fill="none" stroke="#000" stroke-width="0.8" stroke-linejoin="round" />
<path d="M1218.6 541.3 L1235.1 533.9" fill="none" stroke="#000" stroke-width="0.7" stroke-linejoin="round" />
<ellipse cx="1226.8" cy="546.4" rx="5.4" ry="6.8" transform="rotate(20 1226.8 546.4)" fill="#c9c9c9" stroke="#000" stroke-width="0.8"/>
<ellipse cx="1226.8" cy="546.4" rx="3.6" ry="4.8" transform="rotate(20 1226.8 546.4)" fill="#c9c9c9" stroke="#000" stroke-width="0.7"/>
<path d="M1265.8 536.5 L1276.8 525.5 L1276.8 545.3 L1284.5 548.6" fill="none" stroke="#000" stroke-width="0.8" stroke-linejoin="round" />
<path d="M1290.0 499.2 L1292.1 501.4 L1291.7 514.5 L1288.9 517.8" fill="none" stroke="#000" stroke-width="0.8" stroke-linejoin="round" /><path d="M1301.3 232.4 C1302.6 232.1 1303.0 231.4 1306.4 231.2 C1309.8 231.0 1310.8 230.6 1314.0 231.8 C1317.1 233.0 1316.6 233.2 1318.2 235.7 C1319.8 238.3 1317.2 238.5 1320.1 241.4 C1322.9 244.3 1325.1 243.9 1329.0 246.6 C1332.9 249.2 1333.1 250.0 1334.6 251.3" fill="none" stroke="#000" stroke-width="2.6" stroke-linejoin="round" />
<path d="M1301.3 232.4 C1302.6 232.1 1303.0 231.4 1306.4 231.2 C1309.8 231.0 1310.8 230.6 1314.0 231.8 C1317.1 233.0 1316.6 233.2 1318.2 235.7 C1319.8 238.3 1317.2 238.5 1320.1 241.4 C1322.9 244.3 1325.1 243.9 1329.0 246.6 C1332.9 249.2 1333.1 250.0 1334.6 251.3" fill="none" stroke="#c9c9c9" stroke-width="1.0" stroke-linejoin="round" />
<g transform="translate(1333.2 251.3) rotate(56)">
<rect x="0" y="-3.6" width="19" height="7.2" fill="#c9c9c9" stroke="#000" stroke-width="0.8"/>
<rect x="1" y="-3.6" width="10" height="3" fill="#c9c9c9" stroke="#000" stroke-width="0.7"/>
<rect x="11" y="-6" width="4.6" height="2.6" fill="#c9c9c9" stroke="#000" stroke-width="0.7"/>
</g>
<g transform="translate(1272.6 265.8) rotate(-62.0)"><rect x="55.5" y="-4.0" width="3.5" height="8.0" rx="1.5" fill="#333" stroke="#000" stroke-width="0.8"/><rect x="31.0" y="-9.0" width="25.5" height="18.0" rx="3" fill="#c9c9c9" stroke="#000" stroke-width="0.8"/><rect x="29.5" y="-4.5" width="4.0" height="9.0" rx="1.5" fill="#c9c9c9" stroke="#000" stroke-width="0.8"/><rect x="24.0" y="-9.8" width="8.0" height="19.5" rx="1.5" fill="#c9c9c9" stroke="#000" stroke-width="0.8"/><path d="M26.5 -9.7 V9.7 M29.5 -9.7 V9.7" stroke="#000" stroke-width="0.6"/><rect x="14.0" y="-6.2" width="10.0" height="12.5" rx="1" fill="#c9c9c9" stroke="#000" stroke-width="0.8"/><path d="M17 -6.2 V6.2 M20 -6.2 V6.2" stroke="#000" stroke-width="0.9"/><rect x="11.5" y="-7.2" width="3.0" height="14.5" rx="1" fill="#c9c9c9" stroke="#000" stroke-width="0.8"/><rect x="0.0" y="-6.0" width="11.5" height="12.0" rx="1.5" fill="#c9c9c9" stroke="#000" stroke-width="0.8"/><path d="M9 -6 V6" stroke="#000" stroke-width="1.6" stroke-dasharray="1.4 1.2"/><path d="M2 -6 V6" stroke="#000" stroke-width="1.4" stroke-dasharray="1.4 1.2"/></g>
<ellipse cx="1048.5" cy="573.5" rx="8.5" ry="11.5" transform="rotate(-20 1048.5 573.5)" fill="#c9c9c9" stroke="#000" stroke-width="0.9" />
<ellipse cx="1045.0" cy="574.5" rx="8.5" ry="11.5" transform="rotate(-20 1045.0 574.5)" fill="#c9c9c9" stroke="#000" stroke-width="0.0" />
<ellipse cx="1020.5" cy="589.3" rx="31.0" ry="39.0" transform="rotate(-20 1020.5 589.3)" fill="#c9c9c9" stroke="#000" stroke-width="0.9" />
<clipPath id="pumpclip"><rect x="1012" y="520" width="80" height="140" transform="rotate(-20 1016 590)"/></clipPath>
<g clip-path="url(#pumpclip)">
<ellipse cx="1018.9" cy="589.8" rx="28.8" ry="36.8" transform="rotate(-20 1018.9 589.8)" fill="none" stroke="#000" stroke-width="0.9" />
<ellipse cx="1017.1" cy="590.4" rx="26.4" ry="34.4" transform="rotate(-20 1017.1 590.4)" fill="none" stroke="#000" stroke-width="0.9" />
</g>
<ellipse cx="1014.7" cy="591.2" rx="23.0" ry="31.0" transform="rotate(-20 1014.7 591.2)" fill="#c9c9c9" stroke="#000" stroke-width="0.9" />
<ellipse cx="1014.2" cy="592.2" rx="15.4" ry="20.0" transform="rotate(-20 1014.2 592.2)" fill="#c9c9c9" stroke="#000" stroke-width="0.9" />
<ellipse cx="1013.4" cy="591.5" rx="12.2" ry="16.8" transform="rotate(-20 1013.4 591.5)" fill="none" stroke="#000" stroke-width="2.4" stroke-dasharray="2.2 2.6"/>
<ellipse cx="1013.4" cy="591.5" rx="12.2" ry="16.8" transform="rotate(-20 1013.4 591.5)" fill="none" stroke="#c9c9c9" stroke-width="1.0" stroke-dasharray="2.2 2.6"/>
<ellipse cx="1011.0" cy="587.5" rx="2.8" ry="4.4" transform="rotate(-20 1011.0 587.5)" fill="#c9c9c9" stroke="#000" stroke-width="0.9" />
<ellipse cx="1024.5" cy="603.5" rx="3.2" ry="5.2" transform="rotate(-20 1024.5 603.5)" fill="#c9c9c9" stroke="#000" stroke-width="0.9" />
<g transform="translate(811.7 725.2) rotate(-29.9)"><rect x="2" y="-7.4" width="67.8" height="14.8" fill="#c9c9c9" stroke="#000" stroke-width="1.0"/><ellipse cx="75.3" cy="0" rx="4.8" ry="11.6" fill="#c9c9c9" stroke="#000" stroke-width="0.9"/><ellipse cx="72.8" cy="0" rx="4.6" ry="11.2" fill="#c9c9c9" stroke="#000" stroke-width="0.9"/><ellipse cx="69.8" cy="0" rx="3.6" ry="8.6" fill="#c9c9c9" stroke="#000" stroke-width="0.8"/><rect x="63.8" y="-7.0" width="5" height="14" fill="#c9c9c9" stroke="none"/><ellipse cx="5" cy="0" rx="5.4" ry="10.6" fill="#c9c9c9" stroke="#000" stroke-width="0.9"/><ellipse cx="1" cy="0" rx="5.6" ry="10.4" fill="#c9c9c9" stroke="#000" stroke-width="1.0"/><rect x="21.0" y="-2.6" width="11" height="4.4" fill="#1a1a1a"/><rect x="52.0" y="2.0" width="11" height="4.4" fill="#1a1a1a"/></g>
<path d="M968.2 726.2 L1036.8 686.2 L1039.3 683.6 L1060.3 676.4 L1064.5 673.4 L1071.6 668.0 L1096.1 653.8 L1097.0 651.6 L1110.2 644.4 L1120.5 637.9 L1129.5 637.5 L1129.5 650.1 L1139.3 654.8 L1143.1 660.4 L1140.5 668.1 L1132.2 672.1 L1125.2 669.6 L1116.8 682.4 L1104.0 714.0 L1099.8 720.0 L1090.4 728.3 L1040.0 755.4 L1037.0 759.5 L1029.5 757.3 L1028.4 755.0 L990.0 778.3 L985.1 777.2 L971.0 765.9 L965.4 749.7 L964.4 736.6 Z" fill="#c9c9c9" stroke="#000" stroke-width="0.9" stroke-linejoin="round" />
<ellipse cx="1135.6" cy="664.8" rx="3.0" ry="4.0" transform="rotate(20 1135.6 664.8)" fill="#c9c9c9" stroke="#000" stroke-width="0.8"/>
<ellipse cx="1066.4" cy="693.7" rx="2.6" ry="3.6" transform="rotate(20 1066.4 693.7)" fill="#c9c9c9" stroke="#000" stroke-width="0.8"/>
<path d="M987.0 725.3 C985.5 727.1 982.2 728.9 980.4 732.8 C978.7 736.8 979.7 740.0 979.5 742.2" fill="none" stroke="#000" stroke-width="0.8" stroke-linejoin="round" />
<path d="M965.4 749.7 C967.1 748.4 969.5 745.1 972.9 744.1 C976.3 743.1 978.2 745.3 979.9 745.6" fill="none" stroke="#000" stroke-width="0.8" stroke-linejoin="round" />
<path d="M971.0 765.9 C970.4 763.5 967.8 760.3 968.2 755.4 C968.6 750.5 971.8 747.5 972.9 745.0" fill="none" stroke="#000" stroke-width="0.7" stroke-linejoin="round" />
<path d="M987.0 725.3 L1032.1 699.9 L1037.8 692.4 L1056.2 686.2" fill="none" stroke="#000" stroke-width="0.8" stroke-linejoin="round" />
<path d="M968.2 726.2 L987.0 725.3" fill="none" stroke="#000" stroke-width="0.0" stroke-linejoin="round" />
<path d="M1058.8 723.0 L1060.3 738.8 L1086.7 726.4 L1098.0 717.0 L1101.7 712.1 L1114.9 681.7 L1122.8 667.0 L1123.5 640.3 L1117.9 640.3 L1116.8 645.2 L1110.2 648.6 L1110.4 652.0 L1114.9 652.5 L1113.4 660.2 L1099.1 670.0 L1096.8 675.7 L1094.2 684.7 L1093.1 706.1 L1087.4 716.3 L1076.9 723.0 L1064.9 724.2 Z" fill="#ee1a4b" stroke="#000" stroke-width="0.9" stroke-linejoin="round" />
<path d="M1057.5 703.7 L1055.1 709.9 L1058.1 716.7 L1064.5 718.5 L1075.4 717.4 L1083.7 711.8 L1087.4 704.2 L1088.6 683.2 L1092.3 673.8 L1110.0 663.6 L1111.9 654.2 L1096.4 661.0 L1095.3 664.8 L1085.2 670.0 L1083.3 676.4 L1078.2 680.5 L1076.1 688.1 L1073.9 696.7 L1064.9 702.7 Z" fill="#ee1a4b" stroke="#000" stroke-width="0.9" stroke-linejoin="round" />
<path d="M989.8 726.2 L1056.6 688.6 L1057.0 702.7 L1055.1 710.3 L1058.1 717.8 L1059.6 740.3 L990.8 772.3 Z" fill="#ee1a4b" stroke="#000" stroke-width="0.9" stroke-linejoin="round" />
<path d="M980.4 745.6 L989.8 740.7 L989.8 763.3 L980.4 765.2 Z" fill="#ee1a4b" stroke="#000" stroke-width="0.8" stroke-linejoin="round" />
<path d="M989.8 744.1 L1055.1 709.9" fill="none" stroke="#000" stroke-width="0.8" stroke-linejoin="round" />
<path d="M989.8 759.5 L1058.5 725.3" fill="none" stroke="#000" stroke-width="0.8" stroke-linejoin="round" />
<path d="M1067.9 678.7 L1071.6 674.2 L1079.5 671.1 L1085.2 674.2 L1084.0 676.8 L1072.0 682.4 Z" fill="#ee1a4b" stroke="#000" stroke-width="0.8" stroke-linejoin="round" />
<path d="M1073.1 673.0 L1075.4 678.7" stroke="#000" stroke-width="1.3"/>
<path d="M1076.5 673.0 L1078.8 678.7" stroke="#000" stroke-width="1.3"/>
<path d="M1079.9 673.0 L1082.2 678.7" stroke="#000" stroke-width="1.3"/>
<path d="M1029.5 757.3 L1029.9 751.6 L1032.5 750.5 L1037.8 751.6 L1037.0 759.5" fill="none" stroke="#000" stroke-width="0.7" stroke-linejoin="round" />
<path d="M1124.7 641.1 L1127.7 641.1 L1127.7 653.5 L1124.7 653.5 Z" fill="#c9c9c9" stroke="#000" stroke-width="0.7" stroke-linejoin="round" /></g>
<g id="r-lines"><path d="M892.8 106 V88.6 H789 V386.8 H1002" fill="none" stroke="#2496e0" stroke-width="3.9000000000000004" stroke-linejoin="miter"/><path d="M892.8 106 V88.6 H789 V386.8 H1002" fill="none" stroke="#0f66a2" stroke-width="2.6" stroke-linejoin="miter"/><path d="M892.8 106 V88.6 H789 V386.8 H1002" fill="none" stroke="#000" stroke-width="1.3" stroke-opacity="0.75" stroke-linejoin="miter"/>
<path d="M892.8 107 V142" fill="none" stroke="#2496e0" stroke-width="2.9" stroke-linejoin="miter" stroke-dasharray="6 3"/><path d="M892.8 107 V142" fill="none" stroke="#0f66a2" stroke-width="1.6" stroke-linejoin="miter" stroke-dasharray="6 3"/><path d="M892.8 107 V142" fill="none" stroke="#000" stroke-width="0.5" stroke-opacity="0.75" stroke-linejoin="miter" stroke-dasharray="6 3"/>
<path d="M1002 386.8 H1038.5" fill="none" stroke="#2496e0" stroke-width="2.9" stroke-linejoin="miter" stroke-dasharray="8 3.4"/><path d="M1002 386.8 H1038.5" fill="none" stroke="#0f66a2" stroke-width="1.6" stroke-linejoin="miter" stroke-dasharray="8 3.4"/><path d="M1002 386.8 H1038.5" fill="none" stroke="#000" stroke-width="0.5" stroke-opacity="0.75" stroke-linejoin="miter" stroke-dasharray="8 3.4"/>
<path d="M938.5 389 V424.8 L1054 445.6" fill="none" stroke="#2496e0" stroke-width="2.9" stroke-linejoin="miter" stroke-dasharray="8 3.4"/><path d="M938.5 389 V424.8 L1054 445.6" fill="none" stroke="#0f66a2" stroke-width="1.6" stroke-linejoin="miter" stroke-dasharray="8 3.4"/><path d="M938.5 389 V424.8 L1054 445.6" fill="none" stroke="#000" stroke-width="0.5" stroke-opacity="0.75" stroke-linejoin="miter" stroke-dasharray="8 3.4"/>
<path d="M1054 445.6 L1101.2 457.5 V654" fill="none" stroke="#2496e0" stroke-width="3.1" stroke-linejoin="miter"/><path d="M1054 445.6 L1101.2 457.5 V654" fill="none" stroke="#0f66a2" stroke-width="1.7000000000000002" stroke-linejoin="miter"/><path d="M1054 445.6 L1101.2 457.5 V654" fill="none" stroke="#000" stroke-width="0.5" stroke-opacity="0.75" stroke-linejoin="miter"/>
<path d="M1040 388.5 L1146 447.5" fill="none" stroke="#2496e0" stroke-width="2.8" stroke-linejoin="miter" stroke-dasharray="7.6 3.2"/><path d="M1040 388.5 L1146 447.5" fill="none" stroke="#0f66a2" stroke-width="1.5" stroke-linejoin="miter" stroke-dasharray="7.6 3.2"/><path d="M1040 388.5 L1146 447.5" fill="none" stroke="#000" stroke-width="0.5" stroke-opacity="0.75" stroke-linejoin="miter" stroke-dasharray="7.6 3.2"/>
<path d="M1187.5 337 L1259.3 390.5" fill="none" stroke="#2ec4f7" stroke-width="2.7" stroke-linejoin="miter" stroke-dasharray="7.6 3.2"/><path d="M1187.5 337 L1259.3 390.5" fill="none" stroke="#1284b8" stroke-width="1.4000000000000001" stroke-linejoin="miter" stroke-dasharray="7.6 3.2"/><path d="M1187.5 337 L1259.3 390.5" fill="none" stroke="#000" stroke-width="0.5" stroke-opacity="0.75" stroke-linejoin="miter" stroke-dasharray="7.6 3.2"/>
<path d="M1190 491 L1280.5 543.5" fill="none" stroke="#2ec4f7" stroke-width="2.7" stroke-linejoin="miter" stroke-dasharray="7.6 3.2"/><path d="M1190 491 L1280.5 543.5" fill="none" stroke="#1284b8" stroke-width="1.4000000000000001" stroke-linejoin="miter" stroke-dasharray="7.6 3.2"/><path d="M1190 491 L1280.5 543.5" fill="none" stroke="#000" stroke-width="0.5" stroke-opacity="0.75" stroke-linejoin="miter" stroke-dasharray="7.6 3.2"/>
<path d="M1042.7 333 L1146 388.5" fill="none" stroke="#f0204f" stroke-width="2.8" stroke-linejoin="miter" stroke-dasharray="7.6 3.2"/><path d="M1042.7 333 L1146 388.5" fill="none" stroke="#a80f38" stroke-width="1.5" stroke-linejoin="miter" stroke-dasharray="7.6 3.2"/><path d="M1042.7 333 L1146 388.5" fill="none" stroke="#000" stroke-width="0.5" stroke-opacity="0.75" stroke-linejoin="miter" stroke-dasharray="7.6 3.2"/>
<path d="M1019.5 351.8 L1233 474" fill="none" stroke="#f0204f" stroke-width="2.8" stroke-linejoin="miter" stroke-dasharray="7.6 3.2"/><path d="M1019.5 351.8 L1233 474" fill="none" stroke="#a80f38" stroke-width="1.5" stroke-linejoin="miter" stroke-dasharray="7.6 3.2"/><path d="M1019.5 351.8 L1233 474" fill="none" stroke="#000" stroke-width="0.5" stroke-opacity="0.75" stroke-linejoin="miter" stroke-dasharray="7.6 3.2"/>
<path d="M1158.7 509.3 L1251 562.5" fill="none" stroke="#f0204f" stroke-width="2.8" stroke-linejoin="miter" stroke-dasharray="7.6 3.2"/><path d="M1158.7 509.3 L1251 562.5" fill="none" stroke="#a80f38" stroke-width="1.5" stroke-linejoin="miter" stroke-dasharray="7.6 3.2"/><path d="M1158.7 509.3 L1251 562.5" fill="none" stroke="#000" stroke-width="0.5" stroke-opacity="0.75" stroke-linejoin="miter" stroke-dasharray="7.6 3.2"/>
<path d="M836 160 L812 169.4 V427 L1060.8 460.1" fill="none" stroke="#f0204f" stroke-width="3.5" stroke-linejoin="miter"/><path d="M836 160 L812 169.4 V427 L1060.8 460.1" fill="none" stroke="#a80f38" stroke-width="2.3000000000000003" stroke-linejoin="miter"/><path d="M836 160 L812 169.4 V427 L1060.8 460.1" fill="none" stroke="#000" stroke-width="1.0000000000000002" stroke-opacity="0.75" stroke-linejoin="miter"/>
<path d="M1060.8 460.1 L1077.2 484.9 V667" fill="none" stroke="#f0204f" stroke-width="3.0" stroke-linejoin="miter"/><path d="M1060.8 460.1 L1077.2 484.9 V667" fill="none" stroke="#a80f38" stroke-width="1.7000000000000002" stroke-linejoin="miter"/><path d="M1060.8 460.1 L1077.2 484.9 V667" fill="none" stroke="#000" stroke-width="0.5" stroke-opacity="0.75" stroke-linejoin="miter"/>
<path d="M1027 593 L1003.5 605.5 L908.8 592 V448.3 L1046.4 468.7" fill="none" stroke="#f0204f" stroke-width="3.5" stroke-linejoin="miter"/><path d="M1027 593 L1003.5 605.5 L908.8 592 V448.3 L1046.4 468.7" fill="none" stroke="#a80f38" stroke-width="2.3000000000000003" stroke-linejoin="miter"/><path d="M1027 593 L1003.5 605.5 L908.8 592 V448.3 L1046.4 468.7" fill="none" stroke="#000" stroke-width="1.0000000000000002" stroke-opacity="0.75" stroke-linejoin="miter"/>
<path d="M1046.4 468.7 L1119.5 556.7 V640" fill="none" stroke="#f0204f" stroke-width="3.0" stroke-linejoin="miter"/><path d="M1046.4 468.7 L1119.5 556.7 V640" fill="none" stroke="#a80f38" stroke-width="1.7000000000000002" stroke-linejoin="miter"/><path d="M1046.4 468.7 L1119.5 556.7 V640" fill="none" stroke="#000" stroke-width="0.5" stroke-opacity="0.75" stroke-linejoin="miter"/>
<circle cx="1078.6" cy="504.6" r="2.6" fill="none" stroke="#f0204f" stroke-width="2.2"/><circle cx="1078.6" cy="504.6" r="2.6" fill="none" stroke="#5a0a1e" stroke-width="1.0"/>
<circle cx="1102.6" cy="534.8" r="2.6" fill="none" stroke="#f0204f" stroke-width="2.2"/><circle cx="1102.6" cy="534.8" r="2.6" fill="none" stroke="#5a0a1e" stroke-width="1.0"/>
<path d="M883.2 684 L1025.8 602.5" fill="none" stroke="#2ec4f7" stroke-width="2.5" stroke-linejoin="miter"/><path d="M883.2 684 L1025.8 602.5" fill="none" stroke="#1284b8" stroke-width="1.2000000000000002" stroke-linejoin="miter"/><path d="M883.2 684 L1025.8 602.5" fill="none" stroke="#000" stroke-width="0.5" stroke-opacity="0.75" stroke-linejoin="miter"/>
<path d="M1271.2 269.3 L1262.8 288.7 V369.5" fill="none" stroke="#444" stroke-width="1.0" stroke-dasharray="6 3"/></g>
<g id="r-labels"><path d="M986.5 92.2 L976.3 86.3 L960.0 88.0 L945.5 90.4" stroke="#000" stroke-width="0.9" fill="none"/><path d="M935.6 92.0 L945.0 87.6 L945.9 93.1 Z" fill="#000"/>
<circle cx="994.0" cy="94.8" r="7.6" fill="#fff" stroke="#000" stroke-width="0.9"/><text x="994.0" y="98.9" text-anchor="middle" class="b" style="font-size:11.3px">M</text>
<text x="1005.4" y="100.2" class="rlab" >PRESSURE</text>
<text x="1005.4" y="111.1" class="rlab" >REGULATING</text>
<text x="1005.4" y="121.9" class="rlab" >VALVE HOUSING</text>
<path d="M980.5 126.3 L971.3 115.2" stroke="#000" stroke-width="1.0" fill="none"/><path d="M964.9 107.5 L973.4 113.4 L969.1 117.0 Z" fill="#000"/>
<circle cx="984.5" cy="132.8" r="7.6" fill="#fff" stroke="#000" stroke-width="0.9"/><text x="984.5" y="136.9" text-anchor="middle" class="b" style="font-size:11.3px">L</text>
<text x="957.3" y="152.4" class="rlab" >TO TORQUE</text>
<text x="957.3" y="163.2" class="rlab" >CONVERTER</text>
<text x="957.3" y="174.4" class="rlab" >AND OIL</text>
<text x="957.3" y="185.8" class="rlab" >COOLER</text>
<path d="M927.6 211.3 L918.0 208.6" stroke="#000" stroke-width="1.0" fill="none"/><path d="M908.4 205.9 L918.8 205.9 L917.3 211.3 Z" fill="#000"/>
<circle cx="934.8" cy="213.5" r="7.6" fill="#fff" stroke="#000" stroke-width="0.9"/><text x="934.8" y="217.6" text-anchor="middle" class="b" style="font-size:11.3px">K</text>
<text x="946.4" y="213.7" class="rlab" >CONVERTER-IN</text>
<text x="946.4" y="225.7" class="rlab" >RELIEF VALVE</text>
<path d="M886.5 227.2 L883.7 222.6" stroke="#000" stroke-width="1.0" fill="none"/><path d="M878.5 214.0 L886.1 221.1 L881.3 224.0 Z" fill="#000"/>
<circle cx="890.2" cy="233.8" r="7.6" fill="#fff" stroke="#000" stroke-width="0.9"/><text x="890.2" y="237.9" text-anchor="middle" class="b" style="font-size:11.3px">J</text>
<text x="866.3" y="253.7" class="rlab" >LUBE RELIEF</text>
<text x="866.3" y="264.8" class="rlab" >VALVE</text>
<path d="M844.8 260.6 L846.3 256.7" stroke="#000" stroke-width="1.0" fill="none"/><path d="M850.0 247.4 L848.9 257.7 L843.7 255.7 Z" fill="#000"/>
<circle cx="842.4" cy="267.8" r="7.6" fill="#fff" stroke="#000" stroke-width="0.9"/><text x="842.4" y="271.9" text-anchor="middle" class="b" style="font-size:11.3px">I</text>
<text x="822.0" y="286.8" class="rlab" >PRESSURE</text>
<text x="822.0" y="297.7" class="rlab" >REGULATING</text>
<text x="822.0" y="308.5" class="rlab" >VALVE</text>
<path d="M959.0 307.2 L1014.3 321.9" stroke="#000" stroke-width="0.9" fill="none"/><path d="M1024.0 324.5 L1013.6 324.6 L1015.1 319.2 Z" fill="#000"/>
<circle cx="951.9" cy="304.5" r="7.6" fill="#fff" stroke="#000" stroke-width="0.9"/><text x="951.9" y="308.6" text-anchor="middle" class="b" style="font-size:11.3px">H</text>
<text x="896.0" y="327.6" class="rlab" >ACCUMULATOR</text>
<text x="896.0" y="338.6" class="rlab" >PISTON</text>
<text x="1114.1" y="212.4" class="rlab" >TO</text>
<text x="1114.1" y="223.8" class="rlab" >FORWARD</text>
<text x="1114.1" y="235.8" class="rlab" >CLUTCH</text>
<path d="M1116.5 251.8 L1093.3 271.8" stroke="#000" stroke-width="1.0" fill="none"/><path d="M1085.7 278.3 L1091.5 269.7 L1095.1 273.9 Z" fill="#000"/>
<circle cx="1121.9" cy="246.3" r="7.6" fill="#fff" stroke="#000" stroke-width="0.9"/><text x="1121.9" y="250.4" text-anchor="middle" class="b" style="font-size:11.3px">N</text>
<text x="1176.3" y="257.9" class="rlab" >DIRECTIONAL</text>
<text x="1176.3" y="268.7" class="rlab" >SPOOL</text>
<path d="M1201.5 288 L1190.4 322" stroke="#000" stroke-width="0.9" fill="none"/>
<circle cx="1203.0" cy="280.4" r="7.6" fill="#fff" stroke="#000" stroke-width="0.9"/><text x="1203.0" y="284.5" text-anchor="middle" class="b" style="font-size:11.3px">P</text>
<text x="1119.5" y="277.7" class="rlab" >TO</text>
<text x="1119.5" y="289.6" class="rlab" >REVERSE</text>
<text x="1119.5" y="300.7" class="rlab" >BRAKE</text>
<path d="M1103.0 307.0 L1081.2 336.1" stroke="#000" stroke-width="1.0" fill="none"/><path d="M1075.2 344.1 L1079.0 334.4 L1083.4 337.8 Z" fill="#000"/>
<circle cx="1107.5" cy="300.7" r="7.6" fill="#fff" stroke="#000" stroke-width="0.9"/><text x="1107.5" y="304.8" text-anchor="middle" class="b" style="font-size:11.3px">O</text>
<path d="M1311.0 270.0 L1301.9 255.3" stroke="#000" stroke-width="1.0" fill="none"/><path d="M1296.6 246.8 L1304.3 253.8 L1299.5 256.8 Z" fill="#000"/>
<circle cx="1314.6" cy="276.8" r="7.6" fill="#fff" stroke="#000" stroke-width="0.9"/><text x="1314.6" y="280.9" text-anchor="middle" class="b" style="font-size:11.3px">R</text>
<text x="1286.8" y="295.3" class="rlab" >FORWARD</text>
<text x="1286.8" y="306.7" class="rlab" >SOLENOID</text>
<path d="M1267.5 328.5 L1214.3 339.6 L1166.2 367.5" stroke="#000" stroke-width="0.9" fill="none"/><path d="M1157.5 372.5 L1164.7 365.1 L1167.6 369.9 Z" fill="#000"/>
<circle cx="1274.8" cy="327.0" r="7.6" fill="#fff" stroke="#000" stroke-width="0.9"/><text x="1274.8" y="331.1" text-anchor="middle" class="b" style="font-size:11.3px">Q</text>
<text x="1285.6" y="328.2" class="rlab" >CLUTCH</text>
<text x="1285.6" y="339.6" class="rlab" >DISCONNECT</text>
<text x="1285.6" y="351.0" class="rlab" >SPOOL</text>
<text x="837.5" y="401.9" class="rlab" >FROM FILTER TO</text>
<text x="837.5" y="413.1" class="rlab" >CONTROL</text>
<text x="837.5" y="424.1" class="rlab" >CIRCUIT</text>
<path d="M913.0 416.5 L932.0 429.0 L1040.0 455.0 L1048.4 457.3" stroke="#000" stroke-width="0.9" fill="none"/><path d="M1058.0 460.0 L1047.6 460.0 L1049.1 454.6 Z" fill="#000"/>
<circle cx="907.2" cy="411.0" r="7.6" fill="#fff" stroke="#000" stroke-width="0.9"/><text x="907.2" y="415.1" text-anchor="middle" class="b" style="font-size:11.3px">G</text>
<text x="817.9" y="471.9" class="rlab" >FROM</text>
<text x="817.9" y="483.6" class="rlab" >REVERSER</text>
<text x="817.9" y="494.6" class="rlab" >PUMP TO</text>
<text x="817.9" y="505.8" class="rlab" >FILTER</text>
<path d="M899.4 479.3 L1030.0 472.8" stroke="#000" stroke-width="0.9" fill="none"/><path d="M1040.0 472.3 L1030.2 475.6 L1029.9 470.0 Z" fill="#000"/>
<circle cx="891.8" cy="479.7" r="7.6" fill="#fff" stroke="#000" stroke-width="0.9"/><text x="891.8" y="483.8" text-anchor="middle" class="b" style="font-size:11.3px">F</text>
<text x="981.9" y="527.5" class="rlab" >REVERSER</text>
<text x="981.9" y="538.5" class="rlab" >LUBRICATION</text>
<path d="M1063.5 516.8 L1090.3 505.4" stroke="#000" stroke-width="0.9" fill="none"/><path d="M1099.5 501.5 L1091.4 508.0 L1089.2 502.8 Z" fill="#000"/>
<circle cx="1056.3" cy="519.6" r="7.6" fill="#fff" stroke="#000" stroke-width="0.9"/><text x="1056.3" y="523.7" text-anchor="middle" class="b" style="font-size:11.3px">D</text>
<path d="M1190.9 553 V540 L1218 524.5" stroke="#000" stroke-width="0.9" fill="none"/>
<circle cx="1190.9" cy="560.6" r="7.6" fill="#fff" stroke="#000" stroke-width="0.9"/><text x="1190.9" y="564.7" text-anchor="middle" class="b" style="font-size:11.3px">T</text>
<text x="1162.0" y="579.9" class="rlab" >CLUTCH</text>
<text x="1162.0" y="591.7" class="rlab" >DISCONNECT</text>
<text x="1162.0" y="602.7" class="rlab" >SOLENOID</text>
<path d="M1279.8 561.9 H1263.5 V530" stroke="#000" stroke-width="0.9" fill="none"/>
<circle cx="1287.4" cy="561.9" r="7.6" fill="#fff" stroke="#000" stroke-width="0.9"/><text x="1287.4" y="566.0" text-anchor="middle" class="b" style="font-size:11.3px">S</text>
<text x="1257.6" y="583.0" class="rlab" >REVERSE</text>
<text x="1257.6" y="593.9" class="rlab" >SOLENOID</text>
<text x="861.7" y="625.0" class="rlab" >REVERSER</text>
<text x="861.7" y="635.6" class="rlab" >PUMP</text>
<path d="M942.8 621.5 L991.2 610.7" stroke="#000" stroke-width="0.9" fill="none"/><path d="M1001.0 608.5 L991.9 613.4 L990.6 607.9 Z" fill="#000"/>
<circle cx="935.4" cy="623.3" r="7.6" fill="#fff" stroke="#000" stroke-width="0.9"/><text x="935.4" y="627.4" text-anchor="middle" class="b" style="font-size:11.3px">E</text>
<text x="795.1" y="638.2" class="rlab" >SUCTION</text>
<text x="795.1" y="649.2" class="rlab" >SCREEN</text>
<path d="M841.5 667.7 L849.2 680.5" stroke="#000" stroke-width="1.0" fill="none"/><path d="M854.3 689.1 L846.8 682.0 L851.6 679.1 Z" fill="#000"/>
<circle cx="838.0" cy="661.0" r="7.6" fill="#fff" stroke="#000" stroke-width="0.9"/><text x="838.0" y="665.1" text-anchor="middle" class="b" style="font-size:11.3px">A</text>
<text x="964.7" y="655.7" class="rlab" >FILTER</text>
<text x="964.7" y="665.8" class="rlab" >RELIEF</text>
<text x="964.7" y="676.3" class="rlab" >VALVE</text>
<path d="M1024.7 655.2 L1065.9 665.6" stroke="#000" stroke-width="0.9" fill="none"/><path d="M1075.6 668.0 L1065.2 668.3 L1066.6 662.8 Z" fill="#000"/>
<circle cx="1017.3" cy="653.1" r="7.6" fill="#fff" stroke="#000" stroke-width="0.9"/><text x="1017.3" y="657.2" text-anchor="middle" class="b" style="font-size:11.3px">C</text>
<path d="M1110.5 746.5 L1097.3 734.3" stroke="#000" stroke-width="1.0" fill="none"/><path d="M1090.0 727.5 L1099.2 732.2 L1095.4 736.4 Z" fill="#000"/>
<circle cx="1116.0" cy="751.7" r="7.6" fill="#fff" stroke="#000" stroke-width="0.9"/><text x="1116.0" y="755.8" text-anchor="middle" class="b" style="font-size:11.3px">B</text>
<text x="1126.1" y="750.9" class="rlab" >REVERSER</text>
<text x="1126.1" y="763.1" class="rlab" >FILTER</text>
<rect x="1145.8" y="648.3" width="26.3" height="14.0" fill="#ee1a4b" stroke="#000" stroke-width="0.9"/>
<circle cx="1186.1" cy="655.3" r="8.2" fill="#fff" stroke="#000" stroke-width="0.9"/><text x="1186.1" y="659.4" text-anchor="middle" class="b" style="font-size:11.3px">U</text>
<text x="1198.4" y="659.7" class="rlab" >CONTROL PRESSURE</text>
<rect x="1145.8" y="670.6" width="26.3" height="13.6" fill="#f58220" stroke="#000" stroke-width="0.9"/>
<circle cx="1186.1" cy="677.7" r="8.2" fill="#fff" stroke="#000" stroke-width="0.9"/><text x="1186.1" y="681.8" text-anchor="middle" class="b" style="font-size:11.3px">V</text>
<text x="1198.4" y="681.6" class="rlab" >CONVERTER-IN PRESSURE</text>
<rect x="1145.8" y="692.6" width="26.3" height="14.0" fill="#1379c0" stroke="#000" stroke-width="0.9"/>
<circle cx="1186.1" cy="699.6" r="8.2" fill="#fff" stroke="#000" stroke-width="0.9"/><text x="1186.1" y="703.7" text-anchor="middle" class="b" style="font-size:11.3px">W</text>
<text x="1198.4" y="703.5" class="rlab" >LUBE PRESSURE</text>
<rect x="1145.8" y="714.5" width="26.3" height="14.0" fill="#1cb7f0" stroke="#000" stroke-width="0.9"/>
<circle cx="1186.1" cy="721.5" r="8.2" fill="#fff" stroke="#000" stroke-width="0.9"/><text x="1186.1" y="725.6" text-anchor="middle" class="b" style="font-size:11.3px">X</text>
<text x="1198.4" y="725.4" class="rlab" >RETURN OIL</text>
<text x="784.1" y="795.1" class="leg" >TXC7996AL</text>
<circle cx="845.5" cy="792.1" r="8.0" fill="#fff" stroke="#000" stroke-width="0.9"/><text x="845.5" y="795.2" text-anchor="middle" class="b" style="font-size:8.6px">CV</text>
<circle cx="935.4" cy="792.1" r="8.2" fill="#fff" stroke="#000" stroke-width="0.9"/><text x="935.4" y="796.3" text-anchor="middle" class="b" style="font-size:11.6px">Y</text>
<text x="949.4" y="796.6" class="b" style="font-size:13.7px">REVERSER CONTROL VALVE – NEUTRAL</text>
<text x="1052.8" y="861.8" class="tiny" >Continued on next page</text>
<text x="1375.6" y="861.8" class="tiny" text-anchor="end">TX,9020,YY761 -19-04JUN93-1/6</text>
<text transform="translate(1370.2 805) rotate(-90)" style="font-size:6.8px;stroke:#000;stroke-width:0.3px">T7996AL —19—01JAN99</text></g>
</g>
<!-- /RIGHT-DIAGRAM -->
<!-- RIGHT-TEXT -->
<!-- TOOLBAR -->
<g id="toolbar">
<path d="M518.7 941.5 L526.3 935 V948 Z M527.6 935 H530.8 V948 H527.6 Z" fill="#1a1a1a"/>
<path d="M545.4 941.5 L553.4 935 V948 Z" fill="#1a1a1a"/>
<rect x="565.5" y="931.5" width="114" height="19" fill="#fff" stroke="#adadad" stroke-width="1"/>
<text x="570" y="946.3" style="font-size:13.1px;fill:#111">359 / 606</text>
<path d="M669.8 940 H675.2 L672.5 943 Z" fill="#1a1a1a"/>
<path d="M689 935 L696.6 941.5 L689 948 Z" fill="#1a1a1a"/>
<path d="M711.9 935 H714.6 V948 H711.9 Z M716 935 L724.2 941.5 L716 948 Z" fill="#1a1a1a"/>
<!-- icon: fit window with arrow -->
<g>
<rect x="736.5" y="934.6" width="7.6" height="8" fill="#fff" stroke="#6a6a6a" stroke-width="1.2"/>
<rect x="736" y="933.8" width="8.6" height="1.6" fill="#3a78c8"/>
<rect x="741.4" y="940.4" width="9.6" height="8.6" fill="#fff" stroke="#5a5a5a" stroke-width="1.4"/>
<path d="M752 937 H746 M748.4 934.6 L745.6 937 L748.4 939.4" stroke="#4f9f7a" stroke-width="1.3" fill="none"/>
</g>
<g opacity="0.45">
<rect x="762.4" y="934.4" width="8" height="7.6" fill="#f0f0f0" stroke="#8a8a8a" stroke-width="1.2"/>
<rect x="767.4" y="939.6" width="10.4" height="9" fill="#f4f4f4" stroke="#8a8a8a" stroke-width="1.2"/>
<rect x="767.4" y="939.6" width="10.4" height="1.6" fill="#7aa5dc"/>
<path d="M762 945.4 H766.4 M764.6 943.4 L766.8 945.4 L764.6 947.4" stroke="#6fae90" stroke-width="1.2" fill="none"/>
</g>
<!-- right icons -->
<g stroke="#8a8a8a" fill="#fff">
<rect x="1328.3" y="935.4" width="10.4" height="13.2" stroke-width="1"/>
<path d="M1330 938.8 H1337 M1330 941.6 H1337 M1330 944.4 H1337" stroke="#a5a5a5" stroke-width="0.9" fill="none"/>
<rect x="1353.2" y="934.2" width="10.6" height="9" stroke-width="1"/>
<path d="M1355 937 H1362 M1355 939.8 H1362" stroke="#a5a5a5" stroke-width="0.9" fill="none"/>
<path d="M1353.2 950 V945.6 H1363.8 V950" stroke-width="1"/>
<path d="M1355 948.2 H1362" stroke="#a5a5a5" stroke-width="0.9" fill="none"/>
<rect x="1374" y="933" width="24.2" height="18" fill="#c3d5ee" stroke="none"/>
<rect x="1378.3" y="935.4" width="6.3" height="12" stroke-width="1"/>
<rect x="1386.6" y="935.4" width="6.3" height="12" stroke-width="1"/>
<path d="M1380 938.6 H1383 M1380 941.4 H1383 M1380 944.2 H1383 M1388.3 938.6 H1391.3 M1388.3 941.4 H1391.3 M1388.3 944.2 H1391.3" stroke="#a5a5a5" stroke-width="0.9" fill="none"/>
<rect x="1404" y="934.2" width="6" height="9.4" fill="#fff" stroke="none"/><rect x="1412.6" y="934.2" width="6.4" height="9.4" fill="#fff" stroke="none"/><rect x="1404" y="945.8" width="6" height="4.2" fill="#fff" stroke="none"/><rect x="1412.6" y="945.8" width="6.4" height="4.2" fill="#fff" stroke="none"/><path d="M1404 934.2 H1410 V943.6 H1404 M1419 934.2 H1412.6 V943.6 H1419 M1404 945.8 H1410 V950 M1419 945.8 H1412.6 V950" stroke-width="1" fill="none"/>
<path d="M1404 937 H1408.6 M1404 939.8 H1408.6 M1404 942 H1408.6 M1414 937 H1419 M1414 939.8 H1419 M1414 942 H1419 M1404 948 H1408.6 M1414 948 H1419" stroke="#a5a5a5" stroke-width="0.9" fill="none"/>
</g>
</g>
<!-- /TOOLBAR -->
</svg>
</body>
</html>
